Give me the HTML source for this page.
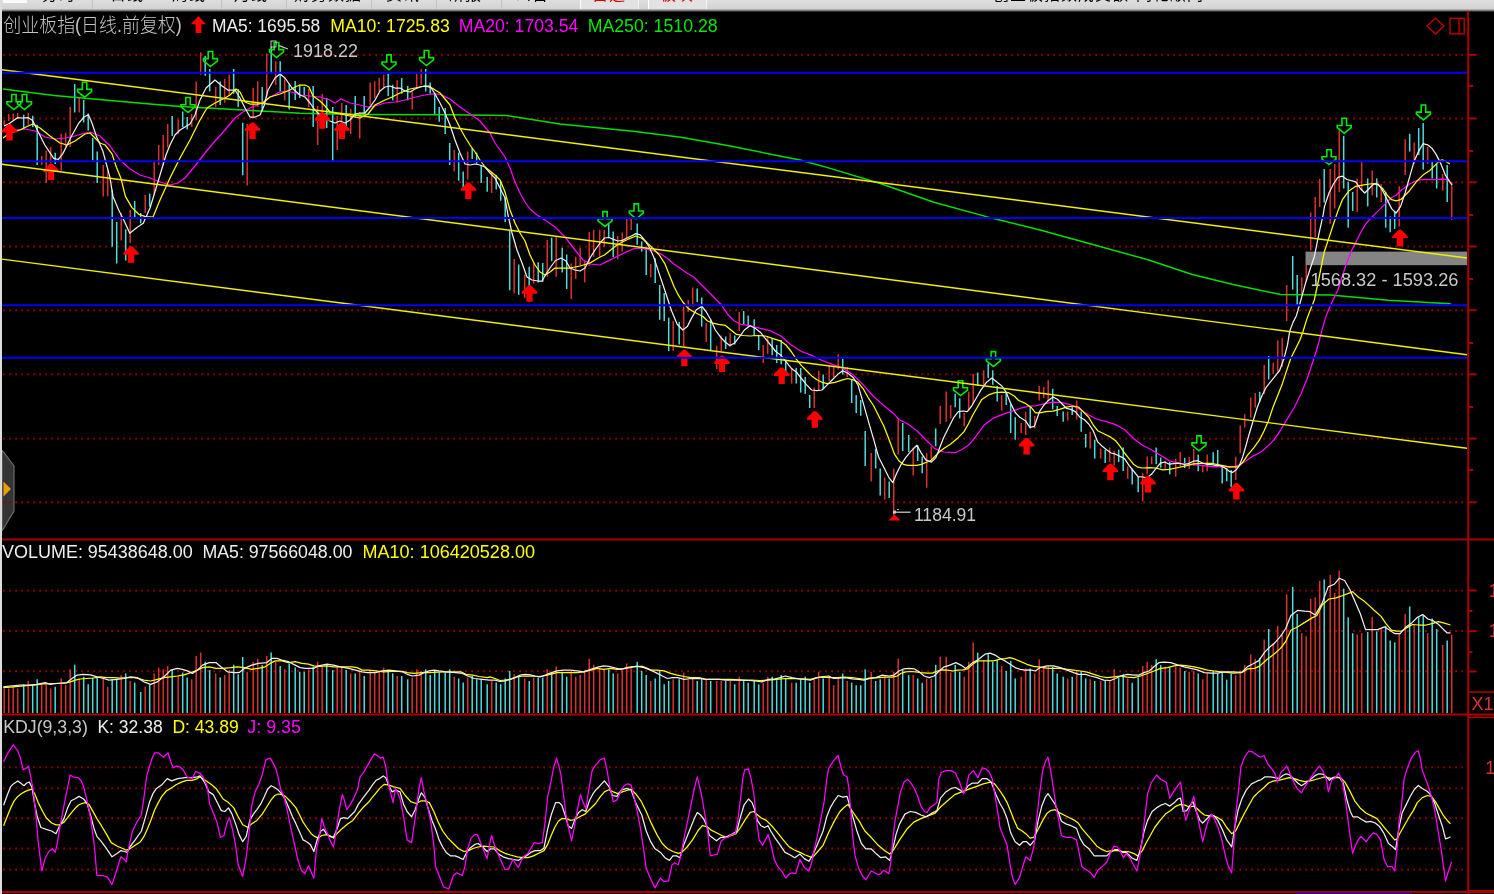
<!DOCTYPE html>
<html><head><meta charset="utf-8"><title>创业板指</title>
<style>
html,body{margin:0;padding:0;background:#000;width:1494px;height:894px;overflow:hidden;position:relative}
#top{position:absolute;left:0;top:0;width:1494px;height:12px;background:linear-gradient(#dedede 0,#d3d3d3 8.8px,#707070 10.7px,#000 12px);overflow:hidden}
#top span{position:absolute;top:-13px;font:16px/16px 'Liberation Sans','Noto Sans CJK SC',sans-serif;color:#000;white-space:nowrap;letter-spacing:1px}
#top .tab{position:absolute;top:0;height:8.5px;background:#e2e2e2;border-left:1px solid #fff;border-right:1px solid #f4f4f4}
#top .sep{position:absolute;top:0;height:9px;width:1px;background:#c4c4c4}
#lb{position:absolute;left:0;top:0;width:2px;height:894px;background:#dcdcdc}
#tab{position:absolute;left:2px;top:450px;width:13px;height:81px}
</style></head><body>
<div id="top">
<div class="tab" style="left:3px;width:24px;height:3px;background:#fafafa;border:0"></div>
<div class="sep" style="left:92px"></div><div class="sep" style="left:221px"></div><div class="sep" style="left:286px"></div>
<div class="sep" style="left:371px"></div><div class="sep" style="left:436px"></div><div class="sep" style="left:501px"></div>
<div class="tab" style="left:580px;width:57px"></div><div class="tab" style="left:648px;width:57px"></div>
<span style="left:42px">分时</span><span style="left:110px">日线</span><span style="left:172px">周线</span>
<span style="left:234px">月线</span><span style="left:294px">财务数据</span><span style="left:386px">资讯</span>
<span style="left:448px">研报</span><span style="left:515px">公告</span>
<span style="left:592px;color:#e00000">自选</span><span style="left:660px;color:#e00000">板块</span>
<span style="left:993px">创业板指数成交额</span><span style="left:1136px">同花顺网</span>
</div>
<div id="lb"></div>
<svg id="tab" width="13" height="81" viewBox="0 0 13 81" style="position:absolute;left:2px;top:450px">
<polygon points="0,0 12,16 12,61 0,81" fill="#343434" stroke="#6a6a6a" stroke-width="1.2"/>
<polygon points="1.5,31.5 9,39 1.5,46.5" fill="#e8a000"/>
</svg>
<svg width="1494" height="894" viewBox="0 0 1494 894" style="position:absolute;left:0;top:0">
<line x1="3.2" y1="54.9" x2="1465" y2="54.9" stroke="#920000" stroke-width="1.9" stroke-dasharray="1.9 4.1" />
<line x1="3.2" y1="118.5" x2="1465" y2="118.5" stroke="#920000" stroke-width="1.9" stroke-dasharray="1.9 4.1" />
<line x1="3.2" y1="182.3" x2="1465" y2="182.3" stroke="#920000" stroke-width="1.9" stroke-dasharray="1.9 4.1" />
<line x1="3.2" y1="246.5" x2="1465" y2="246.5" stroke="#920000" stroke-width="1.9" stroke-dasharray="1.9 4.1" />
<line x1="3.2" y1="310.2" x2="1465" y2="310.2" stroke="#920000" stroke-width="1.9" stroke-dasharray="1.9 4.1" />
<line x1="3.2" y1="374.4" x2="1465" y2="374.4" stroke="#920000" stroke-width="1.9" stroke-dasharray="1.9 4.1" />
<line x1="3.2" y1="438.6" x2="1465" y2="438.6" stroke="#920000" stroke-width="1.9" stroke-dasharray="1.9 4.1" />
<line x1="3.2" y1="502.3" x2="1465" y2="502.3" stroke="#920000" stroke-width="1.9" stroke-dasharray="1.9 4.1" />
<line x1="3.2" y1="590.6" x2="1465" y2="590.6" stroke="#920000" stroke-width="1.9" stroke-dasharray="1.9 4.1" />
<line x1="3.2" y1="631" x2="1465" y2="631" stroke="#920000" stroke-width="1.9" stroke-dasharray="1.9 4.1" />
<line x1="3.2" y1="671.3" x2="1465" y2="671.3" stroke="#920000" stroke-width="1.9" stroke-dasharray="1.9 4.1" />
<line x1="3.2" y1="767.4" x2="1464" y2="767.4" stroke="#920000" stroke-width="1.9" stroke-dasharray="1.9 4.1" />
<line x1="3.2" y1="788.4" x2="1464" y2="788.4" stroke="#920000" stroke-width="1.9" stroke-dasharray="1.9 4.1" />
<line x1="3.2" y1="818.3" x2="1464" y2="818.3" stroke="#920000" stroke-width="1.9" stroke-dasharray="1.9 4.1" />
<line x1="3.2" y1="848.5" x2="1464" y2="848.5" stroke="#920000" stroke-width="1.9" stroke-dasharray="1.9 4.1" />
<line x1="3.2" y1="869.5" x2="1464" y2="869.5" stroke="#920000" stroke-width="1.9" stroke-dasharray="1.9 4.1" />
<rect x="1305.5" y="251.6" width="161.5" height="13.6" fill="#848484"/>
<line x1="4.2" y1="120.3" x2="4.2" y2="124.8" stroke="#dc3030" stroke-width="1.5"/>
<line x1="8.7" y1="114" x2="8.7" y2="121" stroke="#dc3030" stroke-width="1.5"/>
<line x1="13.2" y1="113.6" x2="13.2" y2="120.3" stroke="#dc3030" stroke-width="1.5"/>
<line x1="17.7" y1="113" x2="17.7" y2="119" stroke="#dc3030" stroke-width="1.5"/>
<line x1="23.7" y1="114.7" x2="23.7" y2="129.2" stroke="#4adcdc" stroke-width="1.5"/>
<line x1="28.2" y1="113" x2="28.2" y2="124.8" stroke="#dc3030" stroke-width="1.5"/>
<line x1="32.7" y1="115.8" x2="32.7" y2="127" stroke="#4adcdc" stroke-width="1.5"/>
<line x1="37.2" y1="124.8" x2="37.2" y2="165" stroke="#4adcdc" stroke-width="1.5"/>
<line x1="41.7" y1="156" x2="41.7" y2="165" stroke="#dc3030" stroke-width="1.5"/>
<line x1="46.2" y1="150.5" x2="46.2" y2="183" stroke="#dc3030" stroke-width="1.5"/>
<line x1="50.7" y1="147" x2="50.7" y2="163" stroke="#dc3030" stroke-width="1.5"/>
<line x1="55.2" y1="152.8" x2="55.2" y2="164" stroke="#4adcdc" stroke-width="1.5"/>
<line x1="61.2" y1="133.7" x2="61.2" y2="170.7" stroke="#dc3030" stroke-width="1.5"/>
<line x1="65.7" y1="132.6" x2="65.7" y2="147" stroke="#dc3030" stroke-width="1.5"/>
<line x1="70.2" y1="107" x2="70.2" y2="147" stroke="#dc3030" stroke-width="1.5"/>
<line x1="74.7" y1="84" x2="74.7" y2="112.5" stroke="#4adcdc" stroke-width="1.5"/>
<line x1="79.2" y1="98" x2="79.2" y2="112.5" stroke="#dc3030" stroke-width="1.5"/>
<line x1="83.7" y1="100" x2="83.7" y2="122.5" stroke="#4adcdc" stroke-width="1.5"/>
<line x1="88.2" y1="113.6" x2="88.2" y2="130.4" stroke="#4adcdc" stroke-width="1.5"/>
<line x1="92.7" y1="138" x2="92.7" y2="160.6" stroke="#4adcdc" stroke-width="1.5"/>
<line x1="97.2" y1="151.6" x2="97.2" y2="183" stroke="#4adcdc" stroke-width="1.5"/>
<line x1="103.2" y1="165" x2="103.2" y2="196.4" stroke="#dc3030" stroke-width="1.5"/>
<line x1="107.7" y1="169.5" x2="107.7" y2="196.4" stroke="#dc3030" stroke-width="1.5"/>
<line x1="112.2" y1="189.7" x2="112.2" y2="246.8" stroke="#4adcdc" stroke-width="1.5"/>
<line x1="116.7" y1="222" x2="116.7" y2="263.6" stroke="#4adcdc" stroke-width="1.5"/>
<line x1="121.2" y1="213" x2="121.2" y2="240.4" stroke="#dc3030" stroke-width="1.5"/>
<line x1="125.7" y1="229.3" x2="125.7" y2="260.5" stroke="#4adcdc" stroke-width="1.5"/>
<line x1="130.2" y1="210" x2="130.2" y2="243" stroke="#dc3030" stroke-width="1.5"/>
<line x1="134.7" y1="201" x2="134.7" y2="217.7" stroke="#4adcdc" stroke-width="1.5"/>
<line x1="140.7" y1="213" x2="140.7" y2="223.3" stroke="#4adcdc" stroke-width="1.5"/>
<line x1="145.2" y1="195" x2="145.2" y2="213" stroke="#dc3030" stroke-width="1.5"/>
<line x1="149.7" y1="193.6" x2="149.7" y2="206.7" stroke="#4adcdc" stroke-width="1.5"/>
<line x1="154.2" y1="162" x2="154.2" y2="194.5" stroke="#dc3030" stroke-width="1.5"/>
<line x1="158.7" y1="145" x2="158.7" y2="165" stroke="#dc3030" stroke-width="1.5"/>
<line x1="163.2" y1="135" x2="163.2" y2="165" stroke="#dc3030" stroke-width="1.5"/>
<line x1="167.7" y1="124" x2="167.7" y2="147.5" stroke="#dc3030" stroke-width="1.5"/>
<line x1="172.2" y1="116" x2="172.2" y2="136" stroke="#4adcdc" stroke-width="1.5"/>
<line x1="178.2" y1="119.5" x2="178.2" y2="134" stroke="#dc3030" stroke-width="1.5"/>
<line x1="182.7" y1="111.6" x2="182.7" y2="127.3" stroke="#4adcdc" stroke-width="1.5"/>
<line x1="187.2" y1="117" x2="187.2" y2="129.5" stroke="#4adcdc" stroke-width="1.5"/>
<line x1="191.7" y1="114" x2="191.7" y2="127" stroke="#dc3030" stroke-width="1.5"/>
<line x1="196.2" y1="81.4" x2="196.2" y2="120.6" stroke="#dc3030" stroke-width="1.5"/>
<line x1="200.7" y1="52.3" x2="200.7" y2="74.7" stroke="#dc3030" stroke-width="1.5"/>
<line x1="205.2" y1="55.7" x2="205.2" y2="75.8" stroke="#4adcdc" stroke-width="1.5"/>
<line x1="209.7" y1="69" x2="209.7" y2="91.5" stroke="#4adcdc" stroke-width="1.5"/>
<line x1="215.7" y1="87" x2="215.7" y2="107" stroke="#dc3030" stroke-width="1.5"/>
<line x1="220.2" y1="81.4" x2="220.2" y2="105" stroke="#4adcdc" stroke-width="1.5"/>
<line x1="224.7" y1="79" x2="224.7" y2="102.7" stroke="#dc3030" stroke-width="1.5"/>
<line x1="229.2" y1="74.7" x2="229.2" y2="96" stroke="#dc3030" stroke-width="1.5"/>
<line x1="233.7" y1="69" x2="233.7" y2="93.7" stroke="#4adcdc" stroke-width="1.5"/>
<line x1="238.2" y1="89" x2="238.2" y2="107" stroke="#4adcdc" stroke-width="1.5"/>
<line x1="242.7" y1="122.8" x2="242.7" y2="175.4" stroke="#4adcdc" stroke-width="1.5"/>
<line x1="247.2" y1="124" x2="247.2" y2="185.5" stroke="#dc3030" stroke-width="1.5"/>
<line x1="253.2" y1="88" x2="253.2" y2="118.4" stroke="#dc3030" stroke-width="1.5"/>
<line x1="257.7" y1="81.4" x2="257.7" y2="107" stroke="#dc3030" stroke-width="1.5"/>
<line x1="262.2" y1="87" x2="262.2" y2="111.6" stroke="#4adcdc" stroke-width="1.5"/>
<line x1="266.7" y1="53.4" x2="266.7" y2="96" stroke="#dc3030" stroke-width="1.5"/>
<line x1="271.2" y1="46.7" x2="271.2" y2="73.6" stroke="#4adcdc" stroke-width="1.5"/>
<line x1="275.7" y1="61.3" x2="275.7" y2="84.8" stroke="#dc3030" stroke-width="1.5"/>
<line x1="280.2" y1="61.3" x2="280.2" y2="91.5" stroke="#4adcdc" stroke-width="1.5"/>
<line x1="284.7" y1="78" x2="284.7" y2="100.4" stroke="#dc3030" stroke-width="1.5"/>
<line x1="289.2" y1="83.7" x2="289.2" y2="109.4" stroke="#4adcdc" stroke-width="1.5"/>
<line x1="295.2" y1="81" x2="295.2" y2="100" stroke="#4adcdc" stroke-width="1.5"/>
<line x1="299.7" y1="84.5" x2="299.7" y2="98" stroke="#4adcdc" stroke-width="1.5"/>
<line x1="304.2" y1="87" x2="304.2" y2="96" stroke="#4adcdc" stroke-width="1.5"/>
<line x1="308.7" y1="89" x2="308.7" y2="107" stroke="#dc3030" stroke-width="1.5"/>
<line x1="313.2" y1="86" x2="313.2" y2="127" stroke="#4adcdc" stroke-width="1.5"/>
<line x1="317.7" y1="106" x2="317.7" y2="145" stroke="#dc3030" stroke-width="1.5"/>
<line x1="322.2" y1="94" x2="322.2" y2="114" stroke="#dc3030" stroke-width="1.5"/>
<line x1="326.7" y1="98" x2="326.7" y2="128" stroke="#4adcdc" stroke-width="1.5"/>
<line x1="332.7" y1="107" x2="332.7" y2="161" stroke="#4adcdc" stroke-width="1.5"/>
<line x1="337.2" y1="116" x2="337.2" y2="150" stroke="#dc3030" stroke-width="1.5"/>
<line x1="341.7" y1="103" x2="341.7" y2="129.5" stroke="#dc3030" stroke-width="1.5"/>
<line x1="346.2" y1="105" x2="346.2" y2="127" stroke="#4adcdc" stroke-width="1.5"/>
<line x1="350.7" y1="109" x2="350.7" y2="134" stroke="#dc3030" stroke-width="1.5"/>
<line x1="355.2" y1="96" x2="355.2" y2="118" stroke="#4adcdc" stroke-width="1.5"/>
<line x1="359.7" y1="112" x2="359.7" y2="138.5" stroke="#dc3030" stroke-width="1.5"/>
<line x1="364.2" y1="96" x2="364.2" y2="114" stroke="#4adcdc" stroke-width="1.5"/>
<line x1="370.2" y1="82.5" x2="370.2" y2="105" stroke="#dc3030" stroke-width="1.5"/>
<line x1="374.7" y1="81.4" x2="374.7" y2="98" stroke="#dc3030" stroke-width="1.5"/>
<line x1="379.2" y1="78" x2="379.2" y2="91.5" stroke="#dc3030" stroke-width="1.5"/>
<line x1="383.7" y1="74.7" x2="383.7" y2="88" stroke="#dc3030" stroke-width="1.5"/>
<line x1="388.2" y1="73.6" x2="388.2" y2="96" stroke="#4adcdc" stroke-width="1.5"/>
<line x1="392.7" y1="84.8" x2="392.7" y2="100.4" stroke="#4adcdc" stroke-width="1.5"/>
<line x1="397.2" y1="80.3" x2="397.2" y2="102.7" stroke="#dc3030" stroke-width="1.5"/>
<line x1="401.7" y1="78" x2="401.7" y2="93.7" stroke="#4adcdc" stroke-width="1.5"/>
<line x1="407.7" y1="86" x2="407.7" y2="100.4" stroke="#4adcdc" stroke-width="1.5"/>
<line x1="412.2" y1="91.5" x2="412.2" y2="109.4" stroke="#dc3030" stroke-width="1.5"/>
<line x1="416.7" y1="73.6" x2="416.7" y2="89" stroke="#dc3030" stroke-width="1.5"/>
<line x1="421.2" y1="69" x2="421.2" y2="84.8" stroke="#dc3030" stroke-width="1.5"/>
<line x1="425.7" y1="69" x2="425.7" y2="91.5" stroke="#4adcdc" stroke-width="1.5"/>
<line x1="430.2" y1="82.5" x2="430.2" y2="93.7" stroke="#4adcdc" stroke-width="1.5"/>
<line x1="434.7" y1="92.6" x2="434.7" y2="115" stroke="#4adcdc" stroke-width="1.5"/>
<line x1="439.2" y1="107" x2="439.2" y2="121.7" stroke="#4adcdc" stroke-width="1.5"/>
<line x1="445.2" y1="108" x2="445.2" y2="134" stroke="#4adcdc" stroke-width="1.5"/>
<line x1="449.7" y1="143" x2="449.7" y2="165" stroke="#4adcdc" stroke-width="1.5"/>
<line x1="454.2" y1="150" x2="454.2" y2="171.6" stroke="#dc3030" stroke-width="1.5"/>
<line x1="458.7" y1="152.6" x2="458.7" y2="180.6" stroke="#4adcdc" stroke-width="1.5"/>
<line x1="463.2" y1="171.6" x2="463.2" y2="187.3" stroke="#4adcdc" stroke-width="1.5"/>
<line x1="467.7" y1="151.5" x2="467.7" y2="179.5" stroke="#dc3030" stroke-width="1.5"/>
<line x1="472.2" y1="148" x2="472.2" y2="159" stroke="#4adcdc" stroke-width="1.5"/>
<line x1="476.7" y1="152.6" x2="476.7" y2="163.8" stroke="#4adcdc" stroke-width="1.5"/>
<line x1="481.2" y1="165" x2="481.2" y2="183" stroke="#4adcdc" stroke-width="1.5"/>
<line x1="487.2" y1="177" x2="487.2" y2="191.8" stroke="#4adcdc" stroke-width="1.5"/>
<line x1="491.7" y1="171.6" x2="491.7" y2="193" stroke="#dc3030" stroke-width="1.5"/>
<line x1="496.2" y1="175" x2="496.2" y2="189.5" stroke="#4adcdc" stroke-width="1.5"/>
<line x1="500.7" y1="180.6" x2="500.7" y2="200.7" stroke="#4adcdc" stroke-width="1.5"/>
<line x1="505.2" y1="197.4" x2="505.2" y2="222" stroke="#4adcdc" stroke-width="1.5"/>
<line x1="509.7" y1="229.8" x2="509.7" y2="290.3" stroke="#4adcdc" stroke-width="1.5"/>
<line x1="514.2" y1="259" x2="514.2" y2="293.6" stroke="#dc3030" stroke-width="1.5"/>
<line x1="518.7" y1="264.5" x2="518.7" y2="294.8" stroke="#4adcdc" stroke-width="1.5"/>
<line x1="524.7" y1="274.6" x2="524.7" y2="298" stroke="#dc3030" stroke-width="1.5"/>
<line x1="529.2" y1="266.8" x2="529.2" y2="285.8" stroke="#4adcdc" stroke-width="1.5"/>
<line x1="533.7" y1="263.4" x2="533.7" y2="283.6" stroke="#dc3030" stroke-width="1.5"/>
<line x1="538.2" y1="262.3" x2="538.2" y2="282.4" stroke="#4adcdc" stroke-width="1.5"/>
<line x1="542.7" y1="263" x2="542.7" y2="282" stroke="#4adcdc" stroke-width="1.5"/>
<line x1="547.2" y1="240" x2="547.2" y2="276.8" stroke="#dc3030" stroke-width="1.5"/>
<line x1="551.7" y1="237.7" x2="551.7" y2="261.2" stroke="#4adcdc" stroke-width="1.5"/>
<line x1="556.2" y1="236.6" x2="556.2" y2="276.8" stroke="#dc3030" stroke-width="1.5"/>
<line x1="562.2" y1="247.7" x2="562.2" y2="272.4" stroke="#4adcdc" stroke-width="1.5"/>
<line x1="566.7" y1="254.5" x2="566.7" y2="289" stroke="#4adcdc" stroke-width="1.5"/>
<line x1="571.2" y1="263.4" x2="571.2" y2="299" stroke="#dc3030" stroke-width="1.5"/>
<line x1="575.7" y1="256.7" x2="575.7" y2="279" stroke="#dc3030" stroke-width="1.5"/>
<line x1="580.2" y1="247.7" x2="580.2" y2="265.7" stroke="#dc3030" stroke-width="1.5"/>
<line x1="584.7" y1="261" x2="584.7" y2="282.4" stroke="#dc3030" stroke-width="1.5"/>
<line x1="589.2" y1="232" x2="589.2" y2="265.7" stroke="#dc3030" stroke-width="1.5"/>
<line x1="593.7" y1="229.8" x2="593.7" y2="256.7" stroke="#dc3030" stroke-width="1.5"/>
<line x1="599.7" y1="230" x2="599.7" y2="256" stroke="#dc3030" stroke-width="1.5"/>
<line x1="604.2" y1="230" x2="604.2" y2="247" stroke="#dc3030" stroke-width="1.5"/>
<line x1="608.7" y1="223.6" x2="608.7" y2="238" stroke="#4adcdc" stroke-width="1.5"/>
<line x1="613.2" y1="231.4" x2="613.2" y2="257" stroke="#4adcdc" stroke-width="1.5"/>
<line x1="617.7" y1="236" x2="617.7" y2="259.4" stroke="#dc3030" stroke-width="1.5"/>
<line x1="622.2" y1="232.5" x2="622.2" y2="251.6" stroke="#dc3030" stroke-width="1.5"/>
<line x1="626.7" y1="219" x2="626.7" y2="238" stroke="#dc3030" stroke-width="1.5"/>
<line x1="631.2" y1="219" x2="631.2" y2="230" stroke="#dc3030" stroke-width="1.5"/>
<line x1="637.2" y1="223.6" x2="637.2" y2="244.8" stroke="#4adcdc" stroke-width="1.5"/>
<line x1="641.7" y1="241.5" x2="641.7" y2="251.6" stroke="#4adcdc" stroke-width="1.5"/>
<line x1="646.2" y1="248" x2="646.2" y2="275" stroke="#4adcdc" stroke-width="1.5"/>
<line x1="650.7" y1="264" x2="650.7" y2="277.3" stroke="#dc3030" stroke-width="1.5"/>
<line x1="655.2" y1="258.3" x2="655.2" y2="283" stroke="#4adcdc" stroke-width="1.5"/>
<line x1="659.7" y1="285" x2="659.7" y2="319.8" stroke="#4adcdc" stroke-width="1.5"/>
<line x1="664.2" y1="293" x2="664.2" y2="321" stroke="#4adcdc" stroke-width="1.5"/>
<line x1="668.7" y1="317.6" x2="668.7" y2="351" stroke="#4adcdc" stroke-width="1.5"/>
<line x1="673.2" y1="321" x2="673.2" y2="351" stroke="#dc3030" stroke-width="1.5"/>
<line x1="679.2" y1="322" x2="679.2" y2="344.5" stroke="#4adcdc" stroke-width="1.5"/>
<line x1="683.7" y1="306.4" x2="683.7" y2="346.7" stroke="#dc3030" stroke-width="1.5"/>
<line x1="688.2" y1="299.7" x2="688.2" y2="312" stroke="#dc3030" stroke-width="1.5"/>
<line x1="692.7" y1="287.4" x2="692.7" y2="306.4" stroke="#dc3030" stroke-width="1.5"/>
<line x1="697.2" y1="288.5" x2="697.2" y2="302" stroke="#4adcdc" stroke-width="1.5"/>
<line x1="701.7" y1="297.5" x2="701.7" y2="326.6" stroke="#4adcdc" stroke-width="1.5"/>
<line x1="706.2" y1="323" x2="706.2" y2="342" stroke="#dc3030" stroke-width="1.5"/>
<line x1="710.7" y1="319.8" x2="710.7" y2="351" stroke="#4adcdc" stroke-width="1.5"/>
<line x1="716.7" y1="345.6" x2="716.7" y2="369" stroke="#dc3030" stroke-width="1.5"/>
<line x1="721.2" y1="335.5" x2="721.2" y2="351" stroke="#dc3030" stroke-width="1.5"/>
<line x1="725.7" y1="336.6" x2="725.7" y2="349" stroke="#4adcdc" stroke-width="1.5"/>
<line x1="730.2" y1="333.3" x2="730.2" y2="346.7" stroke="#dc3030" stroke-width="1.5"/>
<line x1="734.7" y1="335.5" x2="734.7" y2="344.5" stroke="#4adcdc" stroke-width="1.5"/>
<line x1="739.2" y1="312" x2="739.2" y2="331" stroke="#dc3030" stroke-width="1.5"/>
<line x1="743.7" y1="311" x2="743.7" y2="324.3" stroke="#4adcdc" stroke-width="1.5"/>
<line x1="748.2" y1="315.4" x2="748.2" y2="326.6" stroke="#4adcdc" stroke-width="1.5"/>
<line x1="754.2" y1="319.3" x2="754.2" y2="336" stroke="#4adcdc" stroke-width="1.5"/>
<line x1="758.7" y1="336" x2="758.7" y2="350" stroke="#4adcdc" stroke-width="1.5"/>
<line x1="763.2" y1="345" x2="763.2" y2="363" stroke="#dc3030" stroke-width="1.5"/>
<line x1="767.7" y1="336" x2="767.7" y2="354" stroke="#dc3030" stroke-width="1.5"/>
<line x1="772.2" y1="338.6" x2="772.2" y2="355.3" stroke="#4adcdc" stroke-width="1.5"/>
<line x1="776.7" y1="345" x2="776.7" y2="363" stroke="#4adcdc" stroke-width="1.5"/>
<line x1="781.2" y1="340" x2="781.2" y2="364.3" stroke="#4adcdc" stroke-width="1.5"/>
<line x1="785.7" y1="360.5" x2="785.7" y2="373.3" stroke="#4adcdc" stroke-width="1.5"/>
<line x1="791.7" y1="368" x2="791.7" y2="383.6" stroke="#dc3030" stroke-width="1.5"/>
<line x1="796.2" y1="368" x2="796.2" y2="383.6" stroke="#4adcdc" stroke-width="1.5"/>
<line x1="800.7" y1="368" x2="800.7" y2="392.6" stroke="#4adcdc" stroke-width="1.5"/>
<line x1="805.2" y1="377" x2="805.2" y2="394" stroke="#4adcdc" stroke-width="1.5"/>
<line x1="809.7" y1="395" x2="809.7" y2="408" stroke="#4adcdc" stroke-width="1.5"/>
<line x1="814.2" y1="387.5" x2="814.2" y2="408" stroke="#dc3030" stroke-width="1.5"/>
<line x1="818.7" y1="370.7" x2="818.7" y2="390" stroke="#dc3030" stroke-width="1.5"/>
<line x1="823.2" y1="374.6" x2="823.2" y2="388.8" stroke="#4adcdc" stroke-width="1.5"/>
<line x1="829.2" y1="365.6" x2="829.2" y2="381" stroke="#dc3030" stroke-width="1.5"/>
<line x1="833.7" y1="365.6" x2="833.7" y2="377" stroke="#dc3030" stroke-width="1.5"/>
<line x1="838.2" y1="354" x2="838.2" y2="369.5" stroke="#dc3030" stroke-width="1.5"/>
<line x1="842.7" y1="359" x2="842.7" y2="374.6" stroke="#4adcdc" stroke-width="1.5"/>
<line x1="847.2" y1="367" x2="847.2" y2="377" stroke="#dc3030" stroke-width="1.5"/>
<line x1="851.7" y1="379.8" x2="851.7" y2="403" stroke="#4adcdc" stroke-width="1.5"/>
<line x1="856.2" y1="395" x2="856.2" y2="413" stroke="#4adcdc" stroke-width="1.5"/>
<line x1="860.7" y1="400" x2="860.7" y2="415.8" stroke="#4adcdc" stroke-width="1.5"/>
<line x1="865.2" y1="431" x2="865.2" y2="466" stroke="#4adcdc" stroke-width="1.5"/>
<line x1="871.2" y1="453" x2="871.2" y2="481.4" stroke="#dc3030" stroke-width="1.5"/>
<line x1="875.7" y1="449" x2="875.7" y2="468.5" stroke="#4adcdc" stroke-width="1.5"/>
<line x1="880.2" y1="468.5" x2="880.2" y2="495.5" stroke="#4adcdc" stroke-width="1.5"/>
<line x1="884.7" y1="477.5" x2="884.7" y2="499.4" stroke="#dc3030" stroke-width="1.5"/>
<line x1="889.2" y1="481.4" x2="889.2" y2="498" stroke="#4adcdc" stroke-width="1.5"/>
<line x1="893.7" y1="468.5" x2="893.7" y2="515.5" stroke="#dc3030" stroke-width="1.5"/>
<line x1="898.2" y1="419.6" x2="898.2" y2="454.4" stroke="#dc3030" stroke-width="1.5"/>
<line x1="902.7" y1="423" x2="902.7" y2="451" stroke="#4adcdc" stroke-width="1.5"/>
<line x1="908.7" y1="435" x2="908.7" y2="452" stroke="#4adcdc" stroke-width="1.5"/>
<line x1="913.2" y1="447.5" x2="913.2" y2="475.5" stroke="#dc3030" stroke-width="1.5"/>
<line x1="917.7" y1="445.3" x2="917.7" y2="461" stroke="#4adcdc" stroke-width="1.5"/>
<line x1="922.2" y1="456.5" x2="922.2" y2="473.3" stroke="#4adcdc" stroke-width="1.5"/>
<line x1="926.7" y1="453" x2="926.7" y2="487.8" stroke="#dc3030" stroke-width="1.5"/>
<line x1="931.2" y1="446.4" x2="931.2" y2="458.7" stroke="#dc3030" stroke-width="1.5"/>
<line x1="935.7" y1="428.5" x2="935.7" y2="446.4" stroke="#4adcdc" stroke-width="1.5"/>
<line x1="940.2" y1="406" x2="940.2" y2="424" stroke="#dc3030" stroke-width="1.5"/>
<line x1="946.2" y1="391.6" x2="946.2" y2="421.8" stroke="#dc3030" stroke-width="1.5"/>
<line x1="950.7" y1="405" x2="950.7" y2="418.4" stroke="#dc3030" stroke-width="1.5"/>
<line x1="955.2" y1="393.8" x2="955.2" y2="407.2" stroke="#4adcdc" stroke-width="1.5"/>
<line x1="959.7" y1="398.3" x2="959.7" y2="418.4" stroke="#4adcdc" stroke-width="1.5"/>
<line x1="964.2" y1="412.8" x2="964.2" y2="426.3" stroke="#dc3030" stroke-width="1.5"/>
<line x1="968.7" y1="391.6" x2="968.7" y2="410.6" stroke="#dc3030" stroke-width="1.5"/>
<line x1="973.2" y1="373.7" x2="973.2" y2="403.9" stroke="#dc3030" stroke-width="1.5"/>
<line x1="977.7" y1="372.5" x2="977.7" y2="386" stroke="#4adcdc" stroke-width="1.5"/>
<line x1="983.7" y1="370.3" x2="983.7" y2="386" stroke="#dc3030" stroke-width="1.5"/>
<line x1="988.2" y1="363.6" x2="988.2" y2="378" stroke="#4adcdc" stroke-width="1.5"/>
<line x1="992.7" y1="370.3" x2="992.7" y2="384.8" stroke="#4adcdc" stroke-width="1.5"/>
<line x1="997.2" y1="386" x2="997.2" y2="401.6" stroke="#4adcdc" stroke-width="1.5"/>
<line x1="1001.7" y1="395" x2="1001.7" y2="410.6" stroke="#dc3030" stroke-width="1.5"/>
<line x1="1006.2" y1="392.7" x2="1006.2" y2="405" stroke="#4adcdc" stroke-width="1.5"/>
<line x1="1010.7" y1="403.9" x2="1010.7" y2="433" stroke="#4adcdc" stroke-width="1.5"/>
<line x1="1015.2" y1="417.3" x2="1015.2" y2="439.7" stroke="#4adcdc" stroke-width="1.5"/>
<line x1="1021.2" y1="423" x2="1021.2" y2="433" stroke="#dc3030" stroke-width="1.5"/>
<line x1="1025.7" y1="411.7" x2="1025.7" y2="435.2" stroke="#dc3030" stroke-width="1.5"/>
<line x1="1030.2" y1="406" x2="1030.2" y2="428.5" stroke="#4adcdc" stroke-width="1.5"/>
<line x1="1034.7" y1="416" x2="1034.7" y2="428.5" stroke="#dc3030" stroke-width="1.5"/>
<line x1="1039.2" y1="386" x2="1039.2" y2="400.4" stroke="#dc3030" stroke-width="1.5"/>
<line x1="1043.7" y1="387" x2="1043.7" y2="398" stroke="#dc3030" stroke-width="1.5"/>
<line x1="1048.2" y1="380.3" x2="1048.2" y2="401.6" stroke="#dc3030" stroke-width="1.5"/>
<line x1="1052.7" y1="388.8" x2="1052.7" y2="409.4" stroke="#4adcdc" stroke-width="1.5"/>
<line x1="1057.2" y1="406" x2="1057.2" y2="416" stroke="#4adcdc" stroke-width="1.5"/>
<line x1="1063.2" y1="411.6" x2="1063.2" y2="421.7" stroke="#4adcdc" stroke-width="1.5"/>
<line x1="1067.7" y1="411.6" x2="1067.7" y2="420.6" stroke="#dc3030" stroke-width="1.5"/>
<line x1="1072.2" y1="407" x2="1072.2" y2="415" stroke="#4adcdc" stroke-width="1.5"/>
<line x1="1076.7" y1="400.4" x2="1076.7" y2="419.5" stroke="#dc3030" stroke-width="1.5"/>
<line x1="1081.2" y1="411.6" x2="1081.2" y2="431.8" stroke="#4adcdc" stroke-width="1.5"/>
<line x1="1085.7" y1="434" x2="1085.7" y2="447.5" stroke="#4adcdc" stroke-width="1.5"/>
<line x1="1090.2" y1="431.8" x2="1090.2" y2="448.6" stroke="#dc3030" stroke-width="1.5"/>
<line x1="1094.7" y1="439.6" x2="1094.7" y2="458.6" stroke="#4adcdc" stroke-width="1.5"/>
<line x1="1100.7" y1="448.6" x2="1100.7" y2="458.6" stroke="#dc3030" stroke-width="1.5"/>
<line x1="1105.2" y1="449.7" x2="1105.2" y2="463" stroke="#4adcdc" stroke-width="1.5"/>
<line x1="1109.7" y1="447.5" x2="1109.7" y2="462" stroke="#dc3030" stroke-width="1.5"/>
<line x1="1114.2" y1="450.8" x2="1114.2" y2="465.4" stroke="#dc3030" stroke-width="1.5"/>
<line x1="1118.7" y1="449.7" x2="1118.7" y2="462" stroke="#4adcdc" stroke-width="1.5"/>
<line x1="1123.2" y1="447.5" x2="1123.2" y2="471" stroke="#4adcdc" stroke-width="1.5"/>
<line x1="1127.7" y1="466.5" x2="1127.7" y2="478.8" stroke="#dc3030" stroke-width="1.5"/>
<line x1="1132.2" y1="468.7" x2="1132.2" y2="484.4" stroke="#4adcdc" stroke-width="1.5"/>
<line x1="1138.2" y1="476.6" x2="1138.2" y2="492.2" stroke="#4adcdc" stroke-width="1.5"/>
<line x1="1142.7" y1="473.2" x2="1142.7" y2="501.2" stroke="#dc3030" stroke-width="1.5"/>
<line x1="1147.2" y1="456.4" x2="1147.2" y2="474.3" stroke="#dc3030" stroke-width="1.5"/>
<line x1="1151.7" y1="456.4" x2="1151.7" y2="464.2" stroke="#dc3030" stroke-width="1.5"/>
<line x1="1156.2" y1="447.5" x2="1156.2" y2="464.2" stroke="#4adcdc" stroke-width="1.5"/>
<line x1="1160.7" y1="457.5" x2="1160.7" y2="467.6" stroke="#4adcdc" stroke-width="1.5"/>
<line x1="1165.2" y1="461" x2="1165.2" y2="468.7" stroke="#dc3030" stroke-width="1.5"/>
<line x1="1169.7" y1="462" x2="1169.7" y2="474.3" stroke="#4adcdc" stroke-width="1.5"/>
<line x1="1175.7" y1="458.6" x2="1175.7" y2="476.6" stroke="#dc3030" stroke-width="1.5"/>
<line x1="1180.2" y1="452" x2="1180.2" y2="466.5" stroke="#dc3030" stroke-width="1.5"/>
<line x1="1184.7" y1="457.8" x2="1184.7" y2="468" stroke="#4adcdc" stroke-width="1.5"/>
<line x1="1189.2" y1="456.7" x2="1189.2" y2="469" stroke="#dc3030" stroke-width="1.5"/>
<line x1="1193.7" y1="448.9" x2="1193.7" y2="465.7" stroke="#dc3030" stroke-width="1.5"/>
<line x1="1198.2" y1="454.5" x2="1198.2" y2="471.3" stroke="#4adcdc" stroke-width="1.5"/>
<line x1="1202.7" y1="464.5" x2="1202.7" y2="472.4" stroke="#dc3030" stroke-width="1.5"/>
<line x1="1207.2" y1="454.5" x2="1207.2" y2="471.3" stroke="#dc3030" stroke-width="1.5"/>
<line x1="1213.2" y1="452.2" x2="1213.2" y2="464.5" stroke="#4adcdc" stroke-width="1.5"/>
<line x1="1217.7" y1="450" x2="1217.7" y2="465.7" stroke="#4adcdc" stroke-width="1.5"/>
<line x1="1222.2" y1="465.7" x2="1222.2" y2="483.6" stroke="#4adcdc" stroke-width="1.5"/>
<line x1="1226.7" y1="468" x2="1226.7" y2="481.3" stroke="#4adcdc" stroke-width="1.5"/>
<line x1="1231.2" y1="470" x2="1231.2" y2="487" stroke="#4adcdc" stroke-width="1.5"/>
<line x1="1235.7" y1="456.7" x2="1235.7" y2="480.2" stroke="#dc3030" stroke-width="1.5"/>
<line x1="1240.2" y1="425.4" x2="1240.2" y2="453.3" stroke="#dc3030" stroke-width="1.5"/>
<line x1="1244.7" y1="414.2" x2="1244.7" y2="427.6" stroke="#dc3030" stroke-width="1.5"/>
<line x1="1250.7" y1="397.4" x2="1250.7" y2="417.5" stroke="#dc3030" stroke-width="1.5"/>
<line x1="1255.2" y1="393" x2="1255.2" y2="407.5" stroke="#dc3030" stroke-width="1.5"/>
<line x1="1259.7" y1="391.8" x2="1259.7" y2="401.9" stroke="#4adcdc" stroke-width="1.5"/>
<line x1="1264.2" y1="365" x2="1264.2" y2="394" stroke="#dc3030" stroke-width="1.5"/>
<line x1="1268.7" y1="356" x2="1268.7" y2="379.5" stroke="#4adcdc" stroke-width="1.5"/>
<line x1="1273.2" y1="362.7" x2="1273.2" y2="373.9" stroke="#dc3030" stroke-width="1.5"/>
<line x1="1277.7" y1="340.3" x2="1277.7" y2="371.6" stroke="#dc3030" stroke-width="1.5"/>
<line x1="1282.2" y1="338" x2="1282.2" y2="367" stroke="#dc3030" stroke-width="1.5"/>
<line x1="1286.7" y1="285" x2="1286.7" y2="321" stroke="#dc3030" stroke-width="1.5"/>
<line x1="1292.7" y1="256" x2="1292.7" y2="289.6" stroke="#4adcdc" stroke-width="1.5"/>
<line x1="1297.2" y1="275" x2="1297.2" y2="305" stroke="#4adcdc" stroke-width="1.5"/>
<line x1="1301.7" y1="277.3" x2="1301.7" y2="294" stroke="#dc3030" stroke-width="1.5"/>
<line x1="1306.2" y1="265" x2="1306.2" y2="281.8" stroke="#dc3030" stroke-width="1.5"/>
<line x1="1310.7" y1="212.5" x2="1310.7" y2="250.5" stroke="#dc3030" stroke-width="1.5"/>
<line x1="1315.2" y1="196.9" x2="1315.2" y2="237" stroke="#dc3030" stroke-width="1.5"/>
<line x1="1319.7" y1="179" x2="1319.7" y2="207" stroke="#dc3030" stroke-width="1.5"/>
<line x1="1324.2" y1="169" x2="1324.2" y2="202.5" stroke="#4adcdc" stroke-width="1.5"/>
<line x1="1330.2" y1="169" x2="1330.2" y2="223.7" stroke="#dc3030" stroke-width="1.5"/>
<line x1="1334.7" y1="163.9" x2="1334.7" y2="208.6" stroke="#dc3030" stroke-width="1.5"/>
<line x1="1339.2" y1="129.2" x2="1339.2" y2="191.9" stroke="#dc3030" stroke-width="1.5"/>
<line x1="1343.7" y1="135.9" x2="1343.7" y2="188.5" stroke="#4adcdc" stroke-width="1.5"/>
<line x1="1348.2" y1="181.8" x2="1348.2" y2="227.7" stroke="#4adcdc" stroke-width="1.5"/>
<line x1="1352.7" y1="191.9" x2="1352.7" y2="210.9" stroke="#4adcdc" stroke-width="1.5"/>
<line x1="1357.2" y1="178.4" x2="1357.2" y2="212" stroke="#dc3030" stroke-width="1.5"/>
<line x1="1361.7" y1="161.6" x2="1361.7" y2="190.7" stroke="#dc3030" stroke-width="1.5"/>
<line x1="1367.7" y1="178.4" x2="1367.7" y2="206.4" stroke="#4adcdc" stroke-width="1.5"/>
<line x1="1372.2" y1="170.6" x2="1372.2" y2="195.2" stroke="#dc3030" stroke-width="1.5"/>
<line x1="1376.7" y1="178.4" x2="1376.7" y2="197.5" stroke="#4adcdc" stroke-width="1.5"/>
<line x1="1381.2" y1="184" x2="1381.2" y2="202" stroke="#dc3030" stroke-width="1.5"/>
<line x1="1385.7" y1="191.9" x2="1385.7" y2="227.7" stroke="#4adcdc" stroke-width="1.5"/>
<line x1="1390.2" y1="216.5" x2="1390.2" y2="232.2" stroke="#4adcdc" stroke-width="1.5"/>
<line x1="1394.7" y1="210.9" x2="1394.7" y2="228.8" stroke="#4adcdc" stroke-width="1.5"/>
<line x1="1399.2" y1="186.3" x2="1399.2" y2="226.6" stroke="#dc3030" stroke-width="1.5"/>
<line x1="1405.2" y1="139.2" x2="1405.2" y2="175.1" stroke="#dc3030" stroke-width="1.5"/>
<line x1="1409.7" y1="133.7" x2="1409.7" y2="151.6" stroke="#4adcdc" stroke-width="1.5"/>
<line x1="1414.2" y1="142.6" x2="1414.2" y2="163.9" stroke="#dc3030" stroke-width="1.5"/>
<line x1="1418.7" y1="128" x2="1418.7" y2="155" stroke="#4adcdc" stroke-width="1.5"/>
<line x1="1423.2" y1="123" x2="1423.2" y2="169.5" stroke="#4adcdc" stroke-width="1.5"/>
<line x1="1427.7" y1="147" x2="1427.7" y2="163.9" stroke="#dc3030" stroke-width="1.5"/>
<line x1="1432.2" y1="161.6" x2="1432.2" y2="178.4" stroke="#4adcdc" stroke-width="1.5"/>
<line x1="1436.7" y1="163.9" x2="1436.7" y2="188.5" stroke="#4adcdc" stroke-width="1.5"/>
<line x1="1442.7" y1="174" x2="1442.7" y2="190.7" stroke="#dc3030" stroke-width="1.5"/>
<line x1="1447.2" y1="165" x2="1447.2" y2="202" stroke="#4adcdc" stroke-width="1.5"/>
<line x1="1451.7" y1="181.8" x2="1451.7" y2="219.8" stroke="#dc3030" stroke-width="1.5"/>
<line x1="4.2" y1="688.5" x2="4.2" y2="713" stroke="#dc3030" stroke-width="1.5"/>
<line x1="8.7" y1="688.5" x2="8.7" y2="713" stroke="#dc3030" stroke-width="1.5"/>
<line x1="13.2" y1="686" x2="13.2" y2="713" stroke="#dc3030" stroke-width="1.5"/>
<line x1="17.7" y1="688.5" x2="17.7" y2="713" stroke="#dc3030" stroke-width="1.5"/>
<line x1="23.7" y1="684.3" x2="23.7" y2="713" stroke="#4adcdc" stroke-width="1.5"/>
<line x1="28.2" y1="681" x2="28.2" y2="713" stroke="#dc3030" stroke-width="1.5"/>
<line x1="32.7" y1="685" x2="32.7" y2="713" stroke="#4adcdc" stroke-width="1.5"/>
<line x1="37.2" y1="679.3" x2="37.2" y2="713" stroke="#4adcdc" stroke-width="1.5"/>
<line x1="41.7" y1="685" x2="41.7" y2="713" stroke="#dc3030" stroke-width="1.5"/>
<line x1="46.2" y1="684.3" x2="46.2" y2="713" stroke="#dc3030" stroke-width="1.5"/>
<line x1="50.7" y1="688.5" x2="50.7" y2="713" stroke="#dc3030" stroke-width="1.5"/>
<line x1="55.2" y1="686.8" x2="55.2" y2="713" stroke="#4adcdc" stroke-width="1.5"/>
<line x1="61.2" y1="678.5" x2="61.2" y2="713" stroke="#dc3030" stroke-width="1.5"/>
<line x1="65.7" y1="685" x2="65.7" y2="713" stroke="#dc3030" stroke-width="1.5"/>
<line x1="70.2" y1="669.3" x2="70.2" y2="713" stroke="#dc3030" stroke-width="1.5"/>
<line x1="74.7" y1="664.7" x2="74.7" y2="713" stroke="#4adcdc" stroke-width="1.5"/>
<line x1="79.2" y1="678.5" x2="79.2" y2="713" stroke="#dc3030" stroke-width="1.5"/>
<line x1="83.7" y1="676.8" x2="83.7" y2="713" stroke="#4adcdc" stroke-width="1.5"/>
<line x1="88.2" y1="684.3" x2="88.2" y2="713" stroke="#4adcdc" stroke-width="1.5"/>
<line x1="92.7" y1="677.6" x2="92.7" y2="713" stroke="#4adcdc" stroke-width="1.5"/>
<line x1="97.2" y1="677.6" x2="97.2" y2="713" stroke="#4adcdc" stroke-width="1.5"/>
<line x1="103.2" y1="678.5" x2="103.2" y2="713" stroke="#dc3030" stroke-width="1.5"/>
<line x1="107.7" y1="686.8" x2="107.7" y2="713" stroke="#dc3030" stroke-width="1.5"/>
<line x1="112.2" y1="679.3" x2="112.2" y2="713" stroke="#4adcdc" stroke-width="1.5"/>
<line x1="116.7" y1="678.5" x2="116.7" y2="713" stroke="#4adcdc" stroke-width="1.5"/>
<line x1="121.2" y1="675" x2="121.2" y2="713" stroke="#dc3030" stroke-width="1.5"/>
<line x1="125.7" y1="673.4" x2="125.7" y2="713" stroke="#4adcdc" stroke-width="1.5"/>
<line x1="130.2" y1="681" x2="130.2" y2="713" stroke="#dc3030" stroke-width="1.5"/>
<line x1="134.7" y1="682.6" x2="134.7" y2="713" stroke="#4adcdc" stroke-width="1.5"/>
<line x1="140.7" y1="691.9" x2="140.7" y2="713" stroke="#4adcdc" stroke-width="1.5"/>
<line x1="145.2" y1="686.8" x2="145.2" y2="713" stroke="#dc3030" stroke-width="1.5"/>
<line x1="149.7" y1="684.3" x2="149.7" y2="713" stroke="#4adcdc" stroke-width="1.5"/>
<line x1="154.2" y1="673.4" x2="154.2" y2="713" stroke="#dc3030" stroke-width="1.5"/>
<line x1="158.7" y1="667.6" x2="158.7" y2="713" stroke="#dc3030" stroke-width="1.5"/>
<line x1="163.2" y1="669.3" x2="163.2" y2="713" stroke="#dc3030" stroke-width="1.5"/>
<line x1="167.7" y1="666" x2="167.7" y2="713" stroke="#dc3030" stroke-width="1.5"/>
<line x1="172.2" y1="669.3" x2="172.2" y2="713" stroke="#4adcdc" stroke-width="1.5"/>
<line x1="178.2" y1="676" x2="178.2" y2="713" stroke="#dc3030" stroke-width="1.5"/>
<line x1="182.7" y1="672.6" x2="182.7" y2="713" stroke="#4adcdc" stroke-width="1.5"/>
<line x1="187.2" y1="677.6" x2="187.2" y2="713" stroke="#4adcdc" stroke-width="1.5"/>
<line x1="191.7" y1="679.3" x2="191.7" y2="713" stroke="#dc3030" stroke-width="1.5"/>
<line x1="196.2" y1="655.9" x2="196.2" y2="713" stroke="#dc3030" stroke-width="1.5"/>
<line x1="200.7" y1="652.5" x2="200.7" y2="713" stroke="#dc3030" stroke-width="1.5"/>
<line x1="205.2" y1="661.7" x2="205.2" y2="713" stroke="#4adcdc" stroke-width="1.5"/>
<line x1="209.7" y1="670.1" x2="209.7" y2="713" stroke="#4adcdc" stroke-width="1.5"/>
<line x1="215.7" y1="673.4" x2="215.7" y2="713" stroke="#dc3030" stroke-width="1.5"/>
<line x1="220.2" y1="677.6" x2="220.2" y2="713" stroke="#4adcdc" stroke-width="1.5"/>
<line x1="224.7" y1="675" x2="224.7" y2="713" stroke="#dc3030" stroke-width="1.5"/>
<line x1="229.2" y1="670.1" x2="229.2" y2="713" stroke="#dc3030" stroke-width="1.5"/>
<line x1="233.7" y1="664.7" x2="233.7" y2="713" stroke="#4adcdc" stroke-width="1.5"/>
<line x1="238.2" y1="674.3" x2="238.2" y2="713" stroke="#4adcdc" stroke-width="1.5"/>
<line x1="242.7" y1="657" x2="242.7" y2="713" stroke="#4adcdc" stroke-width="1.5"/>
<line x1="247.2" y1="671.8" x2="247.2" y2="713" stroke="#dc3030" stroke-width="1.5"/>
<line x1="253.2" y1="661.7" x2="253.2" y2="713" stroke="#dc3030" stroke-width="1.5"/>
<line x1="257.7" y1="658.7" x2="257.7" y2="713" stroke="#dc3030" stroke-width="1.5"/>
<line x1="262.2" y1="665" x2="262.2" y2="713" stroke="#4adcdc" stroke-width="1.5"/>
<line x1="266.7" y1="655.9" x2="266.7" y2="713" stroke="#dc3030" stroke-width="1.5"/>
<line x1="271.2" y1="652.5" x2="271.2" y2="713" stroke="#4adcdc" stroke-width="1.5"/>
<line x1="275.7" y1="661.7" x2="275.7" y2="713" stroke="#dc3030" stroke-width="1.5"/>
<line x1="280.2" y1="665.9" x2="280.2" y2="713" stroke="#4adcdc" stroke-width="1.5"/>
<line x1="284.7" y1="669.3" x2="284.7" y2="713" stroke="#dc3030" stroke-width="1.5"/>
<line x1="289.2" y1="663.4" x2="289.2" y2="713" stroke="#4adcdc" stroke-width="1.5"/>
<line x1="295.2" y1="667.6" x2="295.2" y2="713" stroke="#4adcdc" stroke-width="1.5"/>
<line x1="299.7" y1="671.8" x2="299.7" y2="713" stroke="#4adcdc" stroke-width="1.5"/>
<line x1="304.2" y1="671.8" x2="304.2" y2="713" stroke="#4adcdc" stroke-width="1.5"/>
<line x1="308.7" y1="669.3" x2="308.7" y2="713" stroke="#dc3030" stroke-width="1.5"/>
<line x1="313.2" y1="666.8" x2="313.2" y2="713" stroke="#4adcdc" stroke-width="1.5"/>
<line x1="317.7" y1="661.7" x2="317.7" y2="713" stroke="#dc3030" stroke-width="1.5"/>
<line x1="322.2" y1="666.8" x2="322.2" y2="713" stroke="#dc3030" stroke-width="1.5"/>
<line x1="326.7" y1="665" x2="326.7" y2="713" stroke="#4adcdc" stroke-width="1.5"/>
<line x1="332.7" y1="670.1" x2="332.7" y2="713" stroke="#4adcdc" stroke-width="1.5"/>
<line x1="337.2" y1="666.8" x2="337.2" y2="713" stroke="#dc3030" stroke-width="1.5"/>
<line x1="341.7" y1="666.8" x2="341.7" y2="713" stroke="#dc3030" stroke-width="1.5"/>
<line x1="346.2" y1="670.1" x2="346.2" y2="713" stroke="#4adcdc" stroke-width="1.5"/>
<line x1="350.7" y1="673.4" x2="350.7" y2="713" stroke="#dc3030" stroke-width="1.5"/>
<line x1="355.2" y1="673.4" x2="355.2" y2="713" stroke="#4adcdc" stroke-width="1.5"/>
<line x1="359.7" y1="671" x2="359.7" y2="713" stroke="#dc3030" stroke-width="1.5"/>
<line x1="364.2" y1="676" x2="364.2" y2="713" stroke="#4adcdc" stroke-width="1.5"/>
<line x1="370.2" y1="671" x2="370.2" y2="713" stroke="#dc3030" stroke-width="1.5"/>
<line x1="374.7" y1="672.6" x2="374.7" y2="713" stroke="#dc3030" stroke-width="1.5"/>
<line x1="379.2" y1="671.8" x2="379.2" y2="713" stroke="#dc3030" stroke-width="1.5"/>
<line x1="383.7" y1="667.6" x2="383.7" y2="713" stroke="#dc3030" stroke-width="1.5"/>
<line x1="388.2" y1="671" x2="388.2" y2="713" stroke="#4adcdc" stroke-width="1.5"/>
<line x1="392.7" y1="673.4" x2="392.7" y2="713" stroke="#4adcdc" stroke-width="1.5"/>
<line x1="397.2" y1="676" x2="397.2" y2="713" stroke="#dc3030" stroke-width="1.5"/>
<line x1="401.7" y1="676" x2="401.7" y2="713" stroke="#4adcdc" stroke-width="1.5"/>
<line x1="407.7" y1="679.3" x2="407.7" y2="713" stroke="#4adcdc" stroke-width="1.5"/>
<line x1="412.2" y1="677.6" x2="412.2" y2="713" stroke="#dc3030" stroke-width="1.5"/>
<line x1="416.7" y1="669.3" x2="416.7" y2="713" stroke="#dc3030" stroke-width="1.5"/>
<line x1="421.2" y1="671" x2="421.2" y2="713" stroke="#dc3030" stroke-width="1.5"/>
<line x1="425.7" y1="669.3" x2="425.7" y2="713" stroke="#4adcdc" stroke-width="1.5"/>
<line x1="430.2" y1="675.1" x2="430.2" y2="713" stroke="#4adcdc" stroke-width="1.5"/>
<line x1="434.7" y1="671" x2="434.7" y2="713" stroke="#4adcdc" stroke-width="1.5"/>
<line x1="439.2" y1="672.6" x2="439.2" y2="713" stroke="#4adcdc" stroke-width="1.5"/>
<line x1="445.2" y1="672.6" x2="445.2" y2="713" stroke="#4adcdc" stroke-width="1.5"/>
<line x1="449.7" y1="669.3" x2="449.7" y2="713" stroke="#4adcdc" stroke-width="1.5"/>
<line x1="454.2" y1="676.8" x2="454.2" y2="713" stroke="#dc3030" stroke-width="1.5"/>
<line x1="458.7" y1="678.5" x2="458.7" y2="713" stroke="#4adcdc" stroke-width="1.5"/>
<line x1="463.2" y1="682.6" x2="463.2" y2="713" stroke="#4adcdc" stroke-width="1.5"/>
<line x1="467.7" y1="677.6" x2="467.7" y2="713" stroke="#dc3030" stroke-width="1.5"/>
<line x1="472.2" y1="676" x2="472.2" y2="713" stroke="#4adcdc" stroke-width="1.5"/>
<line x1="476.7" y1="679.3" x2="476.7" y2="713" stroke="#4adcdc" stroke-width="1.5"/>
<line x1="481.2" y1="679.3" x2="481.2" y2="713" stroke="#4adcdc" stroke-width="1.5"/>
<line x1="487.2" y1="684.3" x2="487.2" y2="713" stroke="#4adcdc" stroke-width="1.5"/>
<line x1="491.7" y1="681" x2="491.7" y2="713" stroke="#dc3030" stroke-width="1.5"/>
<line x1="496.2" y1="682.6" x2="496.2" y2="713" stroke="#4adcdc" stroke-width="1.5"/>
<line x1="500.7" y1="684.3" x2="500.7" y2="713" stroke="#4adcdc" stroke-width="1.5"/>
<line x1="505.2" y1="678.5" x2="505.2" y2="713" stroke="#4adcdc" stroke-width="1.5"/>
<line x1="509.7" y1="670.9" x2="509.7" y2="713" stroke="#4adcdc" stroke-width="1.5"/>
<line x1="514.2" y1="674.3" x2="514.2" y2="713" stroke="#dc3030" stroke-width="1.5"/>
<line x1="518.7" y1="676.8" x2="518.7" y2="713" stroke="#4adcdc" stroke-width="1.5"/>
<line x1="524.7" y1="678.5" x2="524.7" y2="713" stroke="#dc3030" stroke-width="1.5"/>
<line x1="529.2" y1="681" x2="529.2" y2="713" stroke="#4adcdc" stroke-width="1.5"/>
<line x1="533.7" y1="677.6" x2="533.7" y2="713" stroke="#dc3030" stroke-width="1.5"/>
<line x1="538.2" y1="677.6" x2="538.2" y2="713" stroke="#4adcdc" stroke-width="1.5"/>
<line x1="542.7" y1="677.6" x2="542.7" y2="713" stroke="#4adcdc" stroke-width="1.5"/>
<line x1="547.2" y1="669.3" x2="547.2" y2="713" stroke="#dc3030" stroke-width="1.5"/>
<line x1="551.7" y1="671.8" x2="551.7" y2="713" stroke="#4adcdc" stroke-width="1.5"/>
<line x1="556.2" y1="666.4" x2="556.2" y2="713" stroke="#dc3030" stroke-width="1.5"/>
<line x1="562.2" y1="672.6" x2="562.2" y2="713" stroke="#4adcdc" stroke-width="1.5"/>
<line x1="566.7" y1="676.8" x2="566.7" y2="713" stroke="#4adcdc" stroke-width="1.5"/>
<line x1="571.2" y1="670.9" x2="571.2" y2="713" stroke="#dc3030" stroke-width="1.5"/>
<line x1="575.7" y1="676.8" x2="575.7" y2="713" stroke="#dc3030" stroke-width="1.5"/>
<line x1="580.2" y1="675.1" x2="580.2" y2="713" stroke="#dc3030" stroke-width="1.5"/>
<line x1="584.7" y1="670.1" x2="584.7" y2="713" stroke="#dc3030" stroke-width="1.5"/>
<line x1="589.2" y1="658.7" x2="589.2" y2="713" stroke="#dc3030" stroke-width="1.5"/>
<line x1="593.7" y1="664.7" x2="593.7" y2="713" stroke="#dc3030" stroke-width="1.5"/>
<line x1="599.7" y1="668.4" x2="599.7" y2="713" stroke="#dc3030" stroke-width="1.5"/>
<line x1="604.2" y1="670.1" x2="604.2" y2="713" stroke="#dc3030" stroke-width="1.5"/>
<line x1="608.7" y1="669.3" x2="608.7" y2="713" stroke="#4adcdc" stroke-width="1.5"/>
<line x1="613.2" y1="673.4" x2="613.2" y2="713" stroke="#4adcdc" stroke-width="1.5"/>
<line x1="617.7" y1="673.4" x2="617.7" y2="713" stroke="#dc3030" stroke-width="1.5"/>
<line x1="622.2" y1="670.1" x2="622.2" y2="713" stroke="#dc3030" stroke-width="1.5"/>
<line x1="626.7" y1="663.4" x2="626.7" y2="713" stroke="#dc3030" stroke-width="1.5"/>
<line x1="631.2" y1="668.4" x2="631.2" y2="713" stroke="#dc3030" stroke-width="1.5"/>
<line x1="637.2" y1="661.7" x2="637.2" y2="713" stroke="#4adcdc" stroke-width="1.5"/>
<line x1="641.7" y1="670.9" x2="641.7" y2="713" stroke="#4adcdc" stroke-width="1.5"/>
<line x1="646.2" y1="675.1" x2="646.2" y2="713" stroke="#4adcdc" stroke-width="1.5"/>
<line x1="650.7" y1="681" x2="650.7" y2="713" stroke="#dc3030" stroke-width="1.5"/>
<line x1="655.2" y1="678.5" x2="655.2" y2="713" stroke="#4adcdc" stroke-width="1.5"/>
<line x1="659.7" y1="670.9" x2="659.7" y2="713" stroke="#4adcdc" stroke-width="1.5"/>
<line x1="664.2" y1="684.3" x2="664.2" y2="713" stroke="#4adcdc" stroke-width="1.5"/>
<line x1="668.7" y1="681" x2="668.7" y2="713" stroke="#4adcdc" stroke-width="1.5"/>
<line x1="673.2" y1="679.3" x2="673.2" y2="713" stroke="#dc3030" stroke-width="1.5"/>
<line x1="679.2" y1="679.3" x2="679.2" y2="713" stroke="#4adcdc" stroke-width="1.5"/>
<line x1="683.7" y1="672.6" x2="683.7" y2="713" stroke="#dc3030" stroke-width="1.5"/>
<line x1="688.2" y1="679.3" x2="688.2" y2="713" stroke="#dc3030" stroke-width="1.5"/>
<line x1="692.7" y1="678.5" x2="692.7" y2="713" stroke="#dc3030" stroke-width="1.5"/>
<line x1="697.2" y1="681" x2="697.2" y2="713" stroke="#4adcdc" stroke-width="1.5"/>
<line x1="701.7" y1="678.5" x2="701.7" y2="713" stroke="#4adcdc" stroke-width="1.5"/>
<line x1="706.2" y1="679.3" x2="706.2" y2="713" stroke="#dc3030" stroke-width="1.5"/>
<line x1="710.7" y1="681" x2="710.7" y2="713" stroke="#4adcdc" stroke-width="1.5"/>
<line x1="716.7" y1="681" x2="716.7" y2="713" stroke="#dc3030" stroke-width="1.5"/>
<line x1="721.2" y1="681" x2="721.2" y2="713" stroke="#dc3030" stroke-width="1.5"/>
<line x1="725.7" y1="681" x2="725.7" y2="713" stroke="#4adcdc" stroke-width="1.5"/>
<line x1="730.2" y1="681" x2="730.2" y2="713" stroke="#dc3030" stroke-width="1.5"/>
<line x1="734.7" y1="684.3" x2="734.7" y2="713" stroke="#4adcdc" stroke-width="1.5"/>
<line x1="739.2" y1="676.8" x2="739.2" y2="713" stroke="#dc3030" stroke-width="1.5"/>
<line x1="743.7" y1="681" x2="743.7" y2="713" stroke="#4adcdc" stroke-width="1.5"/>
<line x1="748.2" y1="682.7" x2="748.2" y2="713" stroke="#4adcdc" stroke-width="1.5"/>
<line x1="754.2" y1="681" x2="754.2" y2="713" stroke="#4adcdc" stroke-width="1.5"/>
<line x1="758.7" y1="684.3" x2="758.7" y2="713" stroke="#4adcdc" stroke-width="1.5"/>
<line x1="763.2" y1="682.7" x2="763.2" y2="713" stroke="#dc3030" stroke-width="1.5"/>
<line x1="767.7" y1="676.8" x2="767.7" y2="713" stroke="#dc3030" stroke-width="1.5"/>
<line x1="772.2" y1="676.8" x2="772.2" y2="713" stroke="#4adcdc" stroke-width="1.5"/>
<line x1="776.7" y1="680.2" x2="776.7" y2="713" stroke="#4adcdc" stroke-width="1.5"/>
<line x1="781.2" y1="675.1" x2="781.2" y2="713" stroke="#4adcdc" stroke-width="1.5"/>
<line x1="785.7" y1="678.5" x2="785.7" y2="713" stroke="#4adcdc" stroke-width="1.5"/>
<line x1="791.7" y1="682.7" x2="791.7" y2="713" stroke="#dc3030" stroke-width="1.5"/>
<line x1="796.2" y1="682.7" x2="796.2" y2="713" stroke="#4adcdc" stroke-width="1.5"/>
<line x1="800.7" y1="679.3" x2="800.7" y2="713" stroke="#4adcdc" stroke-width="1.5"/>
<line x1="805.2" y1="676.8" x2="805.2" y2="713" stroke="#4adcdc" stroke-width="1.5"/>
<line x1="809.7" y1="682.7" x2="809.7" y2="713" stroke="#4adcdc" stroke-width="1.5"/>
<line x1="814.2" y1="679.3" x2="814.2" y2="713" stroke="#dc3030" stroke-width="1.5"/>
<line x1="818.7" y1="671.8" x2="818.7" y2="713" stroke="#dc3030" stroke-width="1.5"/>
<line x1="823.2" y1="678.5" x2="823.2" y2="713" stroke="#4adcdc" stroke-width="1.5"/>
<line x1="829.2" y1="677.6" x2="829.2" y2="713" stroke="#dc3030" stroke-width="1.5"/>
<line x1="833.7" y1="685.2" x2="833.7" y2="713" stroke="#dc3030" stroke-width="1.5"/>
<line x1="838.2" y1="678.5" x2="838.2" y2="713" stroke="#dc3030" stroke-width="1.5"/>
<line x1="842.7" y1="673.5" x2="842.7" y2="713" stroke="#4adcdc" stroke-width="1.5"/>
<line x1="847.2" y1="681" x2="847.2" y2="713" stroke="#dc3030" stroke-width="1.5"/>
<line x1="851.7" y1="682.7" x2="851.7" y2="713" stroke="#4adcdc" stroke-width="1.5"/>
<line x1="856.2" y1="685.2" x2="856.2" y2="713" stroke="#4adcdc" stroke-width="1.5"/>
<line x1="860.7" y1="685.2" x2="860.7" y2="713" stroke="#4adcdc" stroke-width="1.5"/>
<line x1="865.2" y1="669.3" x2="865.2" y2="713" stroke="#4adcdc" stroke-width="1.5"/>
<line x1="871.2" y1="671.8" x2="871.2" y2="713" stroke="#dc3030" stroke-width="1.5"/>
<line x1="875.7" y1="681" x2="875.7" y2="713" stroke="#4adcdc" stroke-width="1.5"/>
<line x1="880.2" y1="679.3" x2="880.2" y2="713" stroke="#4adcdc" stroke-width="1.5"/>
<line x1="884.7" y1="676" x2="884.7" y2="713" stroke="#dc3030" stroke-width="1.5"/>
<line x1="889.2" y1="678.5" x2="889.2" y2="713" stroke="#4adcdc" stroke-width="1.5"/>
<line x1="893.7" y1="671.8" x2="893.7" y2="713" stroke="#dc3030" stroke-width="1.5"/>
<line x1="898.2" y1="658.4" x2="898.2" y2="713" stroke="#dc3030" stroke-width="1.5"/>
<line x1="902.7" y1="669.3" x2="902.7" y2="713" stroke="#4adcdc" stroke-width="1.5"/>
<line x1="908.7" y1="675.1" x2="908.7" y2="713" stroke="#4adcdc" stroke-width="1.5"/>
<line x1="913.2" y1="675.1" x2="913.2" y2="713" stroke="#dc3030" stroke-width="1.5"/>
<line x1="917.7" y1="678.5" x2="917.7" y2="713" stroke="#4adcdc" stroke-width="1.5"/>
<line x1="922.2" y1="682.7" x2="922.2" y2="713" stroke="#4adcdc" stroke-width="1.5"/>
<line x1="926.7" y1="678.5" x2="926.7" y2="713" stroke="#dc3030" stroke-width="1.5"/>
<line x1="931.2" y1="678.5" x2="931.2" y2="713" stroke="#dc3030" stroke-width="1.5"/>
<line x1="935.7" y1="664.8" x2="935.7" y2="713" stroke="#4adcdc" stroke-width="1.5"/>
<line x1="940.2" y1="656.7" x2="940.2" y2="713" stroke="#dc3030" stroke-width="1.5"/>
<line x1="946.2" y1="656.7" x2="946.2" y2="713" stroke="#dc3030" stroke-width="1.5"/>
<line x1="950.7" y1="672.6" x2="950.7" y2="713" stroke="#dc3030" stroke-width="1.5"/>
<line x1="955.2" y1="665.1" x2="955.2" y2="713" stroke="#4adcdc" stroke-width="1.5"/>
<line x1="959.7" y1="671.8" x2="959.7" y2="713" stroke="#4adcdc" stroke-width="1.5"/>
<line x1="964.2" y1="676.8" x2="964.2" y2="713" stroke="#dc3030" stroke-width="1.5"/>
<line x1="968.7" y1="661.8" x2="968.7" y2="713" stroke="#dc3030" stroke-width="1.5"/>
<line x1="973.2" y1="642.5" x2="973.2" y2="713" stroke="#dc3030" stroke-width="1.5"/>
<line x1="977.7" y1="652.6" x2="977.7" y2="713" stroke="#4adcdc" stroke-width="1.5"/>
<line x1="983.7" y1="660.9" x2="983.7" y2="713" stroke="#dc3030" stroke-width="1.5"/>
<line x1="988.2" y1="654.2" x2="988.2" y2="713" stroke="#4adcdc" stroke-width="1.5"/>
<line x1="992.7" y1="661.8" x2="992.7" y2="713" stroke="#4adcdc" stroke-width="1.5"/>
<line x1="997.2" y1="660.1" x2="997.2" y2="713" stroke="#4adcdc" stroke-width="1.5"/>
<line x1="1001.7" y1="666" x2="1001.7" y2="713" stroke="#dc3030" stroke-width="1.5"/>
<line x1="1006.2" y1="671" x2="1006.2" y2="713" stroke="#4adcdc" stroke-width="1.5"/>
<line x1="1010.7" y1="660.9" x2="1010.7" y2="713" stroke="#4adcdc" stroke-width="1.5"/>
<line x1="1015.2" y1="678.5" x2="1015.2" y2="713" stroke="#4adcdc" stroke-width="1.5"/>
<line x1="1021.2" y1="676.8" x2="1021.2" y2="713" stroke="#dc3030" stroke-width="1.5"/>
<line x1="1025.7" y1="668.4" x2="1025.7" y2="713" stroke="#dc3030" stroke-width="1.5"/>
<line x1="1030.2" y1="668.4" x2="1030.2" y2="713" stroke="#4adcdc" stroke-width="1.5"/>
<line x1="1034.7" y1="673.5" x2="1034.7" y2="713" stroke="#dc3030" stroke-width="1.5"/>
<line x1="1039.2" y1="659.2" x2="1039.2" y2="713" stroke="#dc3030" stroke-width="1.5"/>
<line x1="1043.7" y1="667.6" x2="1043.7" y2="713" stroke="#dc3030" stroke-width="1.5"/>
<line x1="1048.2" y1="666" x2="1048.2" y2="713" stroke="#dc3030" stroke-width="1.5"/>
<line x1="1052.7" y1="666.8" x2="1052.7" y2="713" stroke="#4adcdc" stroke-width="1.5"/>
<line x1="1057.2" y1="673.5" x2="1057.2" y2="713" stroke="#4adcdc" stroke-width="1.5"/>
<line x1="1063.2" y1="676.8" x2="1063.2" y2="713" stroke="#4adcdc" stroke-width="1.5"/>
<line x1="1067.7" y1="678.5" x2="1067.7" y2="713" stroke="#dc3030" stroke-width="1.5"/>
<line x1="1072.2" y1="676.8" x2="1072.2" y2="713" stroke="#4adcdc" stroke-width="1.5"/>
<line x1="1076.7" y1="671" x2="1076.7" y2="713" stroke="#dc3030" stroke-width="1.5"/>
<line x1="1081.2" y1="671" x2="1081.2" y2="713" stroke="#4adcdc" stroke-width="1.5"/>
<line x1="1085.7" y1="678.5" x2="1085.7" y2="713" stroke="#4adcdc" stroke-width="1.5"/>
<line x1="1090.2" y1="679.3" x2="1090.2" y2="713" stroke="#dc3030" stroke-width="1.5"/>
<line x1="1094.7" y1="681" x2="1094.7" y2="713" stroke="#4adcdc" stroke-width="1.5"/>
<line x1="1100.7" y1="681" x2="1100.7" y2="713" stroke="#dc3030" stroke-width="1.5"/>
<line x1="1105.2" y1="680.2" x2="1105.2" y2="713" stroke="#4adcdc" stroke-width="1.5"/>
<line x1="1109.7" y1="681" x2="1109.7" y2="713" stroke="#dc3030" stroke-width="1.5"/>
<line x1="1114.2" y1="669.3" x2="1114.2" y2="713" stroke="#dc3030" stroke-width="1.5"/>
<line x1="1118.7" y1="677.6" x2="1118.7" y2="713" stroke="#4adcdc" stroke-width="1.5"/>
<line x1="1123.2" y1="674.3" x2="1123.2" y2="713" stroke="#4adcdc" stroke-width="1.5"/>
<line x1="1127.7" y1="678.5" x2="1127.7" y2="713" stroke="#dc3030" stroke-width="1.5"/>
<line x1="1132.2" y1="682.7" x2="1132.2" y2="713" stroke="#4adcdc" stroke-width="1.5"/>
<line x1="1138.2" y1="677.6" x2="1138.2" y2="713" stroke="#4adcdc" stroke-width="1.5"/>
<line x1="1142.7" y1="666" x2="1142.7" y2="713" stroke="#dc3030" stroke-width="1.5"/>
<line x1="1147.2" y1="661.8" x2="1147.2" y2="713" stroke="#dc3030" stroke-width="1.5"/>
<line x1="1151.7" y1="665.1" x2="1151.7" y2="713" stroke="#dc3030" stroke-width="1.5"/>
<line x1="1156.2" y1="659.2" x2="1156.2" y2="713" stroke="#4adcdc" stroke-width="1.5"/>
<line x1="1160.7" y1="665.1" x2="1160.7" y2="713" stroke="#4adcdc" stroke-width="1.5"/>
<line x1="1165.2" y1="666.8" x2="1165.2" y2="713" stroke="#dc3030" stroke-width="1.5"/>
<line x1="1169.7" y1="667.6" x2="1169.7" y2="713" stroke="#4adcdc" stroke-width="1.5"/>
<line x1="1175.7" y1="666.8" x2="1175.7" y2="713" stroke="#dc3030" stroke-width="1.5"/>
<line x1="1180.2" y1="667.6" x2="1180.2" y2="713" stroke="#dc3030" stroke-width="1.5"/>
<line x1="1184.7" y1="671" x2="1184.7" y2="713" stroke="#4adcdc" stroke-width="1.5"/>
<line x1="1189.2" y1="671.8" x2="1189.2" y2="713" stroke="#dc3030" stroke-width="1.5"/>
<line x1="1193.7" y1="671" x2="1193.7" y2="713" stroke="#dc3030" stroke-width="1.5"/>
<line x1="1198.2" y1="673.5" x2="1198.2" y2="713" stroke="#4adcdc" stroke-width="1.5"/>
<line x1="1202.7" y1="679.3" x2="1202.7" y2="713" stroke="#dc3030" stroke-width="1.5"/>
<line x1="1207.2" y1="673.5" x2="1207.2" y2="713" stroke="#dc3030" stroke-width="1.5"/>
<line x1="1213.2" y1="671" x2="1213.2" y2="713" stroke="#4adcdc" stroke-width="1.5"/>
<line x1="1217.7" y1="673.5" x2="1217.7" y2="713" stroke="#4adcdc" stroke-width="1.5"/>
<line x1="1222.2" y1="672.6" x2="1222.2" y2="713" stroke="#4adcdc" stroke-width="1.5"/>
<line x1="1226.7" y1="679.6" x2="1226.7" y2="713" stroke="#4adcdc" stroke-width="1.5"/>
<line x1="1231.2" y1="673.6" x2="1231.2" y2="713" stroke="#4adcdc" stroke-width="1.5"/>
<line x1="1235.7" y1="675.3" x2="1235.7" y2="713" stroke="#dc3030" stroke-width="1.5"/>
<line x1="1240.2" y1="671" x2="1240.2" y2="713" stroke="#dc3030" stroke-width="1.5"/>
<line x1="1244.7" y1="664.9" x2="1244.7" y2="713" stroke="#dc3030" stroke-width="1.5"/>
<line x1="1250.7" y1="654.5" x2="1250.7" y2="713" stroke="#dc3030" stroke-width="1.5"/>
<line x1="1255.2" y1="658.8" x2="1255.2" y2="713" stroke="#dc3030" stroke-width="1.5"/>
<line x1="1259.7" y1="658" x2="1259.7" y2="713" stroke="#4adcdc" stroke-width="1.5"/>
<line x1="1264.2" y1="639.4" x2="1264.2" y2="713" stroke="#dc3030" stroke-width="1.5"/>
<line x1="1268.7" y1="629" x2="1268.7" y2="713" stroke="#4adcdc" stroke-width="1.5"/>
<line x1="1273.2" y1="643.2" x2="1273.2" y2="713" stroke="#dc3030" stroke-width="1.5"/>
<line x1="1277.7" y1="625.9" x2="1277.7" y2="713" stroke="#dc3030" stroke-width="1.5"/>
<line x1="1282.2" y1="634.6" x2="1282.2" y2="713" stroke="#dc3030" stroke-width="1.5"/>
<line x1="1286.7" y1="594.3" x2="1286.7" y2="713" stroke="#dc3030" stroke-width="1.5"/>
<line x1="1292.7" y1="586.9" x2="1292.7" y2="713" stroke="#4adcdc" stroke-width="1.5"/>
<line x1="1297.2" y1="614.1" x2="1297.2" y2="713" stroke="#4adcdc" stroke-width="1.5"/>
<line x1="1301.7" y1="633.2" x2="1301.7" y2="713" stroke="#dc3030" stroke-width="1.5"/>
<line x1="1306.2" y1="636.3" x2="1306.2" y2="713" stroke="#dc3030" stroke-width="1.5"/>
<line x1="1310.7" y1="599" x2="1310.7" y2="713" stroke="#dc3030" stroke-width="1.5"/>
<line x1="1315.2" y1="597.3" x2="1315.2" y2="713" stroke="#dc3030" stroke-width="1.5"/>
<line x1="1319.7" y1="580.8" x2="1319.7" y2="713" stroke="#dc3030" stroke-width="1.5"/>
<line x1="1324.2" y1="579.4" x2="1324.2" y2="713" stroke="#4adcdc" stroke-width="1.5"/>
<line x1="1330.2" y1="574.7" x2="1330.2" y2="713" stroke="#dc3030" stroke-width="1.5"/>
<line x1="1334.7" y1="592.9" x2="1334.7" y2="713" stroke="#dc3030" stroke-width="1.5"/>
<line x1="1339.2" y1="570.4" x2="1339.2" y2="713" stroke="#dc3030" stroke-width="1.5"/>
<line x1="1343.7" y1="588.6" x2="1343.7" y2="713" stroke="#4adcdc" stroke-width="1.5"/>
<line x1="1348.2" y1="617.2" x2="1348.2" y2="713" stroke="#4adcdc" stroke-width="1.5"/>
<line x1="1352.7" y1="633.2" x2="1352.7" y2="713" stroke="#4adcdc" stroke-width="1.5"/>
<line x1="1357.2" y1="634.6" x2="1357.2" y2="713" stroke="#dc3030" stroke-width="1.5"/>
<line x1="1361.7" y1="633.2" x2="1361.7" y2="713" stroke="#dc3030" stroke-width="1.5"/>
<line x1="1367.7" y1="632" x2="1367.7" y2="713" stroke="#4adcdc" stroke-width="1.5"/>
<line x1="1372.2" y1="616.9" x2="1372.2" y2="713" stroke="#dc3030" stroke-width="1.5"/>
<line x1="1376.7" y1="631.4" x2="1376.7" y2="713" stroke="#4adcdc" stroke-width="1.5"/>
<line x1="1381.2" y1="629" x2="1381.2" y2="713" stroke="#dc3030" stroke-width="1.5"/>
<line x1="1385.7" y1="625.9" x2="1385.7" y2="713" stroke="#4adcdc" stroke-width="1.5"/>
<line x1="1390.2" y1="640.6" x2="1390.2" y2="713" stroke="#4adcdc" stroke-width="1.5"/>
<line x1="1394.7" y1="642.4" x2="1394.7" y2="713" stroke="#4adcdc" stroke-width="1.5"/>
<line x1="1399.2" y1="632.8" x2="1399.2" y2="713" stroke="#dc3030" stroke-width="1.5"/>
<line x1="1405.2" y1="614.1" x2="1405.2" y2="713" stroke="#dc3030" stroke-width="1.5"/>
<line x1="1409.7" y1="606.5" x2="1409.7" y2="713" stroke="#4adcdc" stroke-width="1.5"/>
<line x1="1414.2" y1="625" x2="1414.2" y2="713" stroke="#dc3030" stroke-width="1.5"/>
<line x1="1418.7" y1="617.2" x2="1418.7" y2="713" stroke="#4adcdc" stroke-width="1.5"/>
<line x1="1423.2" y1="615.5" x2="1423.2" y2="713" stroke="#4adcdc" stroke-width="1.5"/>
<line x1="1427.7" y1="633.2" x2="1427.7" y2="713" stroke="#dc3030" stroke-width="1.5"/>
<line x1="1432.2" y1="618.6" x2="1432.2" y2="713" stroke="#4adcdc" stroke-width="1.5"/>
<line x1="1436.7" y1="629" x2="1436.7" y2="713" stroke="#4adcdc" stroke-width="1.5"/>
<line x1="1442.7" y1="645" x2="1442.7" y2="713" stroke="#dc3030" stroke-width="1.5"/>
<line x1="1447.2" y1="640.6" x2="1447.2" y2="713" stroke="#4adcdc" stroke-width="1.5"/>
<line x1="1451.7" y1="634.6" x2="1451.7" y2="713" stroke="#dc3030" stroke-width="1.5"/>
<polyline points="3,89 54,95.5 150,104 181,106.5 271,111.6 300,113.2 361,114.6 450,114.8 506,115.4 560,124.1 633,131.3 681,137.3 729,145.8 777,155.4 800,160 826.8,167.4 880.3,183.5 933.9,202.2 987.4,216.9 1041,230.3 1094.5,245 1148,259.8 1191.5,274.2 1233,284.6 1280.7,294.6 1330.5,295 1388.6,300.2 1450.8,303.7" fill="none" stroke="#00e000" stroke-width="1.5" stroke-linejoin="round" />
<polyline points="3,131 15,130 25,129 35,131 45,137 55,139 65,138 75,136 85,133 90,132 100,136 110,146 120,160 130,169 140,175 150,178 160,182 170,185 178,183 185,178 195,166 205,153 215,141 225,130 235,118 243,112 250,108 260,104 270,97 280,92 287,91 295,93 300,95 310,96 320,97 330,100 335,103 341,99 350,103 360,105 368,107 375,106 385,103 395,102 405,100 412,98 420,96 430,94 440,94 450,99 460,107 470,114 480,121 490,133 495,143 500,150 505,157 510,168 515,182 520,193 525,202 530,209 537,215 545,220 555,227 565,237 575,250 583,260 590,264 600,265 606.7,261.6 613.4,258.3 620,255 626.9,251.6 633.6,248.7 640.3,248.2 647,249.3 653.7,250.9 660.4,253.8 667.2,258.3 673.9,263.9 680.6,268.4 687.3,273.3 694,277.3 700.7,284 707.5,290.7 714.2,297.5 720.9,304.2 727.6,314.2 734.3,321 741,324.3 750,325.7 760.3,328.3 770.6,330.9 780.9,336 791.2,345 801.5,351.5 811.7,355.3 822,360.5 832.3,364.3 842.6,368.2 852.9,374.6 863.2,384.9 873.5,396.5 883.8,405.5 894.1,414 899,419.5 907.9,424 916.9,430.7 925.8,439.7 934.8,448.6 943.7,452 954.9,452.7 961.6,449.8 968.4,445.3 975.1,437.5 984,425.1 993,418.4 1001.9,414.6 1010.9,411.7 1019.8,408.4 1028.8,406.1 1035,406 1044,403.8 1052.9,402.2 1061.9,402.7 1070.8,404.9 1079.8,409.4 1088.7,415 1097.7,419.5 1106.6,421.7 1115.6,424.6 1124.5,429.5 1133.5,438.5 1142.5,445.2 1151.4,449.7 1160.4,455.3 1169.3,460.9 1178.3,463.1 1189,464.5 1197.9,465.2 1206.9,466.1 1215.8,466.8 1224.8,466.8 1233.7,466.8 1240.4,464.5 1247.2,460.1 1253.9,455.6 1260.6,452.2 1267.3,446.6 1274,439.9 1280.7,429.8 1287.5,418.6 1294.2,407.5 1300.9,394 1306.5,380.6 1311,367.2 1315.4,353.7 1318.8,342.5 1322.2,329.1 1325.5,317.9 1328.9,309 1333,300 1337.9,290 1342.4,275.8 1346.9,262.4 1351.3,251.2 1355.8,242.2 1360.3,233.3 1364.8,225.4 1369.2,219.8 1373.7,215.4 1378.2,210.9 1382.7,206.4 1387.2,201.9 1391.6,197.5 1396.1,195.2 1400.6,190.7 1405.1,187.4 1409.5,184 1416.3,180.7 1423,179.5 1429.7,179.5 1436.4,179.5 1443.1,179.1 1447.6,179.5 1449.8,181.8" fill="none" stroke="#ff00ff" stroke-width="1.25" stroke-linejoin="round" />
<polyline points="3,138 10,133 20,130 28,126 33,124 40,128 50,136 60,143 67,145 75,141 85,134 90,133 100,143 105.2,145 112,153.9 116.4,167.3 121,178.5 125.4,196.4 132,207.6 138.8,214.3 145.5,216.6 153,217 160,200 170,178 180,158 190,140 200,120 207,108 215,103 225,98 230,95 236,89 240,92 245,102 250,104 258,104 263,103 270,97 280,94 290,90 295,87 300,85 305,85 309,87 313,96 320,101 325,106 330,112 340,114 350,116 360,118 368,114 375,105 385,100 392,97 400,93 410,89 420,87 425,86 432,88 440,93 450,105 455,118 460,128 465,137 470,145 475,152 480,160 485,167 490,171 495,175 500,180 505,192 510,210 515,223 520,233 525,241 530,255 535,265 540,272 545,275 550,272 555,268 562,268 570,268 580,266 590,263 600,257 604.5,255 610,250.4 615.7,246 622.4,242 629,238.8 635.8,236 641.4,238 647,242.6 653.7,249.3 659.3,255 665,263.9 669.4,275 673.9,286.3 678.4,295.2 682.8,302 688.4,308.6 694,312 698.5,314.2 703,316.5 707.5,321 713,323.2 718.6,324.3 725.4,325.4 731,330 736.6,334.4 743.3,335.5 750,336 757.7,335.5 765.4,336 773.2,338.6 780.9,341.2 786,345 791.2,351.5 796.3,359.2 801.5,365.6 806.6,370.7 811.7,375.9 816.9,379.8 822,382.3 827.2,383.6 834.9,382.3 842.6,379.8 847.8,378.5 852.9,379.8 858,382.3 863.2,388.8 868.3,397.8 873.5,405.5 878.6,415.8 883.8,426 888.9,439 894.5,454.2 899,461 903.4,464.3 907.9,465.4 912.4,465.4 916.9,465.4 921.3,464.3 925.8,462.5 930.3,461 934.8,456.5 939.3,452 943.7,448.6 950.4,444.2 957.2,438.6 963.9,431.9 968.4,424 972.8,415 977.3,407.2 981.8,399.4 988.5,394.9 995.2,392.7 1001.9,392.2 1008.6,392.7 1014.2,396 1018.7,400.5 1024.3,402.8 1031,407.2 1035.5,412.8 1039.5,412.8 1046.2,411.6 1052.9,411.2 1059.6,409.4 1066.3,407.2 1073,406 1078.7,407.2 1083.1,411.6 1088.7,417.2 1093.2,425 1097.7,430.7 1104.4,434 1111.1,437.4 1115.6,440.7 1120.1,446.3 1124.5,453 1129,458.6 1133.5,464.2 1138,467.2 1142.5,468 1149.2,467.6 1155.9,468 1162.6,469.8 1169.3,469.4 1176,468 1186.7,465.7 1193.4,463.9 1202.4,463.4 1211.3,463.4 1220.3,465.2 1229.3,466.8 1238.2,466.8 1242.7,462.3 1247.2,455.6 1253.9,447.7 1259.5,439.9 1264,431 1268.4,420.9 1272.9,407.5 1277.4,396.3 1281.9,385.1 1286.3,371.6 1290.8,358.2 1295.3,349.3 1299.8,340.3 1303.1,331.3 1306.5,320.1 1309.8,311.2 1314.3,300 1318.8,279 1323.3,256.7 1324.5,251.2 1329,237.7 1333.4,224.3 1337.9,210.9 1342.4,199.7 1349.1,190.7 1355.8,186.3 1362.5,185.1 1369.2,184 1376,183.6 1382.7,188.5 1387.2,195.2 1391.6,199.7 1396.1,200.8 1400.6,199.7 1405.1,195.2 1409.5,190.7 1416.3,181.8 1423,175.1 1429.7,170.6 1434.2,166.1 1438.7,161.6 1442,159.8 1445.4,161.2 1449.8,163.9" fill="none" stroke="#ffff00" stroke-width="1.25" stroke-linejoin="round" />
<polyline points="4,126 9,123.7 17.9,117.6 22.4,118 28,117.6 32.5,120.3 38,131.5 44.8,145 53.7,158.4 58.2,159.5 62.7,153.9 67.2,145 71.6,136 78.4,123.7 84,117 88.4,114.7 91.8,122.5 96.3,136 103,151.6 109.7,176.3 113,196.4 118.6,209.8 124.2,221 129.8,233.3 136.6,227.7 143.3,223.3 150,208 154,195 160,175 166,155 170,145 175,135 180,130 185,127 190,124 195,115 200,100 206,88 215,80 222,86 228,90 235,90 240,98 245,108 250,117 255,117 260,115 264,106 268,90 275,78 280,74 285,78 292,88 300,95 305,97 310,103 315,110 320,115 325,118 330,121 335,123 340,121 345,123 350,120 355,114 360,113 365,113 370,107 375,100 380,91 385,87 390,86 395,88 400,88 405,91 410,92 415,89 420,87 425,86 430,86 435,94 440,103 445,113 450,125 455,140 460,153 465,164 470,165 475,164 480,165 485,167 490,173 495,178 500,188 505,198 508,215 512,233 517,250 522,263 527,277 532,280 538,281 542,281 546,274 550,268 555,261 561,258 566,261 570,268 575,270 580,271 585,268 590,258 595,250 600,243 604.5,238 609,237.5 613.4,239.3 618,241 622.4,240.4 627,238 631.3,236 635.8,233.6 640.3,234.8 644.8,240.4 649.2,247 653.7,257 658.2,270.6 662.7,284 667.2,297.5 671.6,311 677.2,324.3 682.8,330 687.3,326.6 691.8,317.6 696.3,309.8 701.9,306.4 706.3,312 710.8,319.8 715.3,330 721,337.7 725.4,342.2 729.8,345.6 734.3,343.3 738.8,337.7 744.4,330 750,325.7 755.1,328.3 760.3,332.2 765.4,338.6 770.6,345 775.7,351.5 780.9,355.3 786,361.7 791.2,368.2 796.3,372 801.5,378.5 806.6,384.9 811.7,390 816.9,390.6 822,390 827.2,384.9 832.3,379.8 837.5,374.6 842.6,370.7 847.8,373.3 852.9,377.2 858,384.9 863.2,402.9 868.3,420.9 873.5,438.9 878.6,457 883.8,467.2 888.9,477.5 892.8,482.7 896.7,473.3 901.2,464.3 905.7,457.6 911.3,450.9 916.9,445.3 921.3,453.1 925.8,459.8 931.4,462.1 935.9,457.6 939.3,448.7 943.7,437.5 948.2,428.5 953.8,417.3 958.3,411.7 962.8,411 967.2,411.7 971.7,406 976.2,398.3 980.7,390.4 986.3,382.6 991.9,378.1 997.5,382.6 1001.9,386 1006.4,392.7 1010.9,403.9 1015.4,412.8 1019.8,417.3 1025.4,420.7 1029.9,427.4 1034.4,426.3 1039.5,411.6 1044,405 1048.4,400.4 1052.9,397 1057.4,399.3 1061.9,403.8 1066.3,408.3 1070.8,409.4 1075.3,411.6 1079.8,417.2 1084.2,419.5 1088.7,424 1093.2,430.7 1097.7,441.9 1102.2,446.3 1106.6,449.7 1111.1,453 1115.6,454.2 1120.1,456.4 1124.5,458.6 1129,465.4 1133.5,471 1138,476.6 1142.5,477 1146.9,477.7 1151.4,474.3 1155.9,468.7 1160.4,463.1 1164.8,462 1169.3,464.2 1173.8,463.6 1178.3,463.1 1184.5,464.5 1189,463.4 1193.4,461.2 1197.9,460.7 1202.4,463 1206.9,464.5 1211.3,464.5 1215.8,465.7 1220.3,465.7 1224.8,467.9 1229.3,471.3 1232.6,472.4 1236,470.1 1239.3,465.7 1242.7,456.7 1246,445.5 1249.4,433.2 1252.8,422 1257.2,407.5 1261.7,396.3 1266.2,387.3 1270.7,381.7 1275.1,376.1 1279.6,370.5 1284.1,358.2 1287.5,344.8 1289.7,331.3 1293,322.4 1296.4,315.7 1300.9,300 1305.4,283.6 1309.8,270 1314.3,256.7 1318.8,234.3 1323.3,214.2 1324.5,206.4 1329,193 1333.4,184 1337.9,177.3 1342.4,176.2 1346.9,179.5 1351.3,180.7 1355.8,181.8 1360.3,188.5 1364.8,193 1369.2,188.5 1373.7,184 1378.2,184 1382.7,190.7 1387.2,199.7 1391.6,208.6 1396.1,213.1 1400.6,206.4 1405.1,193 1409.5,177.3 1414,161.6 1418.5,151.6 1423,143.7 1427.5,144.8 1431.9,148.2 1436.4,154.9 1440.9,163.9 1445.4,175.1 1449.8,181.8 1452,185" fill="none" stroke="#eeeeee" stroke-width="1.25" stroke-linejoin="round" />
<polyline points="3.3,687.7 13.4,686.8 23.4,686 33.5,685.2 43.5,683.8 53.5,683.5 65.3,683.2 70.3,681.8 75.3,680.1 80.3,679 87,678.5 93.7,678 100.4,676.8 107.1,677.6 113.8,677.6 120.5,678.1 127.2,677.6 133.9,677.6 138.9,678.5 143.9,680.1 150.6,681 157.3,679.3 164,677.6 170.7,676.8 177.4,676 184.1,674.8 190.8,672.6 197.5,670.1 202.5,667.6 209.2,666.8 215.9,668.4 222.6,668.4 230.9,667.6 237.6,666.8 244.3,667.6 251.7,669.3 258.4,668.4 265.1,666.8 270.1,663.4 275.1,660.9 281.8,660.9 288.5,662.6 295.2,661.7 301.9,663.4 308.6,664.2 313.6,665.9 320.3,666.4 327,665.9 333.7,666.8 342.1,666.8 352.1,666.8 357.1,667.6 362.1,670.1 368.8,670.1 375.5,670.9 383.9,671.8 392.3,671.4 402.3,671.4 407.3,672.6 414,673.4 422.4,672.6 429,672.6 437.4,672.1 445.8,671.8 454.2,671.8 460.9,671.8 465.9,674.3 472.6,675.1 479.3,676.5 487.6,677.6 490,676.8 495,678.5 500,680.5 505.1,680.1 510.1,679.3 516.8,676.8 523.5,676 530.2,676 536.9,676.5 543.5,676 550.2,674.3 556.9,672.6 563.6,672.6 570.3,672.6 577,672.6 583.7,671.8 590.4,670.1 597.1,668.4 603.8,669.3 610.5,668.4 617.2,669.3 623.9,668.4 630.6,666.8 637.3,666.4 644,667.6 650.6,670.1 657.3,670.1 664,670.9 670.7,673.4 677.4,675.1 684.1,676.5 690.8,677.6 699.2,677.6 705.9,679.3 714.2,679.3 724.3,679.3 731,679.3 743.4,680.2 751.7,680.2 760.1,680.5 768.5,680.2 776.8,679.3 785.2,678.5 793.6,678.5 801.9,678.8 810.3,679.3 817,677.6 823.7,677.1 830.4,677.6 837.1,677.6 843.8,677.1 852.1,677.6 858.8,678.5 865.5,679.3 872.2,678.2 878.9,677.6 885.6,677.1 892.3,677.1 897.3,676 900.7,673.5 905.7,671.8 910.7,671.5 915.7,671.8 920.7,672.6 927.4,673.1 932.5,673.1 937.5,671 942.5,669.8 947.5,670.1 952.5,671 957.6,670.1 962.6,669.8 967.6,668.8 972.6,664.3 977.6,660.9 986.7,660.9 993.4,660.9 1000.1,659.2 1005.1,658.7 1010.1,657.6 1015.1,659.2 1020.2,661.4 1026.9,664.3 1033.5,666.4 1040.2,667.1 1046.9,668.1 1053.6,668.4 1060.3,668.4 1067,669.3 1073.7,670.1 1080.4,671 1087.1,672.1 1093.8,674.3 1100.5,676.5 1107.2,677.6 1113.9,676.8 1120.6,676 1127.3,677.1 1134,677.6 1140.6,676 1147.4,673.5 1154,671 1160.7,668.4 1167.4,667.6 1174.1,665.9 1180.8,665.1 1187.5,665.9 1194.2,666.8 1200.9,668.4 1207.6,670.1 1214.3,671 1221,671.8 1233.7,673.1 1241.5,672.7 1247.5,668.9 1254.5,668.4 1259.7,666.1 1266.6,659.7 1273.6,654.5 1280.5,648.4 1285.7,641.5 1290.9,630.2 1297.8,626.8 1304.8,622.4 1311.7,618.1 1316.9,615.5 1322.1,605.1 1329,599 1336,597.8 1342.9,595.5 1349.8,592.9 1352.4,591.6 1358.5,597.3 1363.7,600.7 1368.9,605.4 1374.1,610.3 1381.1,616.4 1386.3,624.2 1391.5,630.2 1396.7,631.1 1401.9,631.1 1407.1,627.6 1412.3,624.5 1419.2,625 1426.2,625 1433.1,623.3 1438.3,621.6 1443.5,622.8 1450.5,625" fill="none" stroke="#ffff00" stroke-width="1.25" stroke-linejoin="round" />
<polyline points="3.3,686.8 10,686 20.1,685.2 28.4,685.2 36.8,684.3 45.2,682.6 50.2,684.3 56.9,683.5 66.9,682.6 72,678.5 77,675.1 83.7,674.3 90.4,674.8 97.1,676.8 103.7,678.5 108.8,680.1 117.1,679.3 123.8,678.5 130.5,676.8 137.2,677.6 143.9,681.8 150.6,684.3 157.3,681.8 164,676.8 170.7,670.1 177.4,668.4 182.4,669.3 187.4,670.9 192.4,673.4 197.5,670.1 202.5,665.1 209.2,662.6 215.9,662.6 220.9,666.8 227.6,671.8 234.3,672.6 239.3,672.6 244.3,668.4 251.7,665.1 258.4,663.4 266.8,662.6 271.8,658.4 276.8,658.4 281.8,660.1 288.5,661.7 295.2,665.1 300.2,667.6 305.2,668.4 313.6,668.4 318.6,665.9 327,664.2 333.7,665.1 340.4,666.8 348.7,668.4 355.4,670.1 362.1,671.8 367.2,672.6 375.5,672.6 382.2,670.9 388.9,670.1 395.6,670.9 402.3,671.8 407.3,674.3 412.3,676 419,675.1 424,672.6 429,670.9 434.1,670.1 439.1,670.9 445.8,671.8 455.8,672.6 462.5,673.4 467.6,676 474.3,678.5 482.6,679.3 489.3,680.1 495,680.1 500,681.5 505.1,681 510.1,679.3 515.1,677.6 520.1,675.1 525.1,674.3 530.2,674.8 535.2,676 540.2,676.8 545.2,675.1 550.2,673.1 556.9,670.9 563.6,670.1 570.3,670.1 577,670.9 583.7,671.8 588.7,670.1 593.7,668.4 598.8,666.8 603.8,665.9 608.8,666.3 613.8,667.6 620.5,669.3 625.5,668.4 630.6,667.6 635.6,666.4 642.3,666.3 647.3,668.4 652.3,670.9 657.3,673.4 662.4,676 667.4,678.5 672.4,677.6 677.4,677.6 684.1,679.3 690.8,678.5 699.2,678.5 705.9,679.3 712.6,679.3 719.3,679.3 725.9,680.1 731,680.1 741.7,680.2 748.4,680.5 755.1,681 761.8,681.8 768.5,679.3 775.2,678.8 780.2,677.6 785.2,676 791.9,677.6 798.6,678.8 805.3,679.3 810.3,680.2 817,677.6 823.7,676.5 828.7,676 833.7,678.5 838.7,678.2 845.4,677.6 852.1,678.8 858.8,679.3 863.8,680.2 868.9,678.2 875.6,677.6 882.3,675.1 889,676 894,675.1 899,671 904,668.8 909,668.4 914.1,668.8 919.1,671.8 924.1,676 929.1,677.6 934.1,676 939.1,671 944.2,666.8 949.2,665.4 955.9,662.6 960.9,665.1 965.9,668.4 972.6,662.6 977.6,660.1 985,654.2 990,653.1 995.1,655.1 1000.1,658.4 1005.1,660.9 1010.1,664.3 1015.1,667.6 1020.2,669.3 1025.2,670.1 1030.2,669.8 1035.2,671 1040.2,667.6 1046.9,665.9 1053.6,665.9 1060.3,667.6 1067,670.1 1073.7,672.6 1078.7,674.3 1085.4,674.3 1090.4,676 1097.1,677.6 1103.8,680.2 1110.5,680.5 1115.5,678.5 1120.6,676 1127.3,674.3 1134,675.1 1139,675.1 1144,672.6 1149,671 1154,666.8 1159.1,662.6 1164.1,662.1 1170.8,662.6 1177.5,664.8 1184.1,666.8 1190.8,668.4 1197.5,669.8 1204.2,672.6 1210.9,673.1 1217.6,673.1 1224.3,671.8 1232.8,671.8 1241.5,672.4 1247.5,666.6 1252.7,664 1258.8,660.6 1264.9,651.9 1270.1,646.7 1274.4,643.2 1280.5,636.3 1285.7,628.5 1290.9,615.5 1297.8,610.3 1304.8,611.2 1310,611.7 1315.2,615.1 1322.1,603.4 1328.2,586.9 1334.2,584.3 1339.4,578.2 1344.6,580.5 1349.8,589.5 1355,601.6 1360.3,613.8 1365.5,629.4 1370.7,629.7 1377.6,629.7 1384.5,626.8 1389.7,630.2 1394.9,633.7 1400.1,633.7 1405.3,627.6 1412.3,622.4 1417.5,617.2 1422.7,614.6 1427.9,619 1433.1,620.7 1438.3,624.2 1443.5,629.4 1447,632.8 1450.5,632.8" fill="none" stroke="#eeeeee" stroke-width="1.25" stroke-linejoin="round" />
<polyline points="3.6,825.7 7.1,816.8 10.7,807.9 14.2,800.8 17.8,796.4 21.3,793.7 24.9,791.6 28.5,790.1 32,789.2 34.7,793.7 38.2,802.6 42.7,811.5 46.2,817.7 51.6,823 56,824.8 59.6,824.8 64,822.1 67.6,817.7 71.1,813.2 74.7,808.8 78.2,805.2 81.8,803.5 85.4,802.6 88.9,804.4 92.5,810.6 96.9,818.6 101.4,825.7 106.7,834.6 111.2,842.6 117.4,846.2 122.7,848.5 126.3,850.2 129.8,848.8 135.2,845.3 140.5,841.7 144,836.4 147.6,828.4 151.2,819.5 154.7,809.7 158.3,802.6 161.8,796.4 166.3,791 170.7,788.4 176.1,784.8 181.4,782.1 186.7,780.3 192.1,780.3 197.4,778.6 200,776.8 205.3,780.3 210.7,783.9 216,788.4 219.6,793.7 223.1,799 228.5,802.6 233.8,807.9 238.2,816.8 242.7,824.8 248,827.5 251.6,823.9 256.9,820.4 262.2,814.1 266.7,807 271.1,799.9 274.7,795.5 278.2,794 281.8,794.6 285.4,796.4 290.7,801.7 296,807.9 299.6,815 303.1,822.1 306.7,827.5 311.2,833.7 314.7,836.4 318.3,838.1 321.8,835.5 326.3,834.6 329.8,835.5 333.4,838.1 336.9,833.7 342.3,828.4 347.6,823.9 352.9,820.4 358.3,813.2 363.6,807 369,801.7 372.5,797.2 376.1,792.8 379.6,788.4 384.1,784.4 388.5,784.8 393,786.6 396.5,787.5 400,788.4 405.3,795.5 410.7,801.7 416,803.5 421.3,800.8 424.9,800.8 429.3,802.6 433.8,811.5 438.2,822.1 442.7,831 448,838.1 453.4,843.5 458.7,848.8 464,851.5 468.5,850.6 472.9,848.5 478.2,847 483.6,846.2 488.9,846.7 494.3,847 499.6,850.6 504.9,853.3 510.3,855 517.4,856.8 522.7,857.7 528,857.7 533.4,855.9 538.7,853.3 544,850.6 547.6,844.4 551.2,835.5 554.7,827.5 558.3,821.3 561.8,818.6 566.3,818.6 570.7,820.4 575.2,819.5 579.6,816.8 585,814.1 590.3,808.8 595.6,803.5 600,797.2 604.4,791.9 608.9,789.8 613.3,791.9 617.8,793.7 622.2,791.9 626.7,790.5 631.1,789.2 635.6,793.7 640.9,800.8 646.2,811.5 651.6,823.9 656.9,834.6 662.2,843.5 667.6,848.8 672.9,851.5 678.2,853.3 681.8,852.4 687.1,847 692.5,839.9 697.8,831 702.3,825.7 706.7,826.6 711.2,830.1 716.5,832.8 721.8,835.5 726.3,837.3 731.6,835.5 736,833.7 740.5,827.5 745.8,818.6 750.3,812.4 753.8,811.5 756.5,814.1 760.9,817.7 766.3,820.4 771.6,825.7 776.9,831.9 783.2,839.9 788.5,846.2 793.8,849.7 800,852.4 805.3,855 812.4,857.7 817.8,851.5 823.1,845.3 828.5,832.8 834.7,820.4 840,811.5 844.5,807 848,804.4 852.5,811.5 858.7,820.4 864.9,831 871.1,837.3 878.2,845.3 884.5,850.6 889.8,854.1 894.3,848.8 899.6,839.9 906.7,829.3 913.8,822.1 920.9,818.6 928,815.9 935.2,813.2 940.5,807 947.6,800.8 954.7,794.6 961.8,791.9 968.9,789.2 976.1,786.6 983.2,783.9 990.3,782.1 994.7,783.9 1000,791 1003.6,796.4 1007.1,802.6 1010.7,811.5 1014.2,820.4 1017.8,828.4 1022.2,831 1026.7,834.6 1030.2,838.1 1033.8,837.3 1038.2,829.3 1042.7,820.4 1047.1,813.2 1050.7,810.6 1055.1,809.7 1058.7,812.4 1064,815 1069.4,817.7 1074.7,820.4 1078.2,823 1081.8,828.4 1087.1,834.6 1092.5,840.8 1096.9,846.2 1102.3,849.7 1106.7,851.5 1112,850.6 1117.4,850.6 1122.7,851.5 1128,851.5 1133.4,853.3 1137.8,855.9 1142.3,850.6 1145.8,843.5 1150.3,835.5 1154.7,827.5 1160.1,820.4 1165.4,814.1 1170.7,810.6 1176.1,806.1 1180.5,804.4 1185,805.2 1189.4,807 1193.8,806.1 1197.4,808.8 1200,811.5 1204.4,815 1208.9,815.9 1213.3,815.9 1217.8,817.7 1222.2,820.4 1226.7,827.5 1231.7,833.7 1235.6,831 1240,822.1 1244.5,813.2 1248.9,805.2 1253.4,797.2 1258.7,791.9 1264,787.5 1268.5,783 1272.9,781.2 1278.2,780.3 1283.6,779.1 1288.9,777.7 1294.3,778.6 1299.6,780.3 1304.9,781.6 1310.3,780.9 1315.6,779.5 1320.9,778 1324.5,776.8 1328,777.7 1331.6,778.6 1336,777.7 1340.5,777.7 1344.9,782.1 1349.4,790.1 1354.7,800.8 1360.1,807.9 1366.3,813.2 1371.6,815.9 1376.9,818.6 1381.4,823.9 1385.8,829.3 1390.3,834.6 1394.7,839.8 1397.2,838.8 1400.2,832.8 1404.2,825.7 1408.2,818.7 1413.3,810.6 1417.3,802.6 1422.3,797.6 1427.4,795.5 1431.4,796.5 1435.4,801.6 1439.4,808.6 1443.5,815.7 1447.5,820.7 1450.5,823.7" fill="none" stroke="#ffff00" stroke-width="1.25" stroke-linejoin="round" />
<polyline points="3.6,805.2 7.1,795.5 10.7,786.6 13.3,783.9 17.8,780.9 20.5,783 24,785.7 26.7,783 29.3,782.1 32,787.5 34.7,804.4 37.3,816.8 40.9,827.5 46.2,829.3 51.6,831 56,833.7 59.6,825.7 64,818.6 67.6,807.9 71.1,800.8 74.7,799 79.1,796.4 83.6,799 87.1,803.5 90.7,815.9 94.3,829.3 96.9,836.4 101.4,841.7 106.7,848.8 112,856.8 117.4,853.3 120.9,850.6 124.5,851.5 127.2,852.4 129.8,847 135.2,839.9 141.4,831 145.8,815.9 149.4,802.6 152.9,793.7 156.5,788.4 161.8,784.8 167.2,778.6 171.6,780.9 177.8,778.6 185,777.7 192.1,777.7 197.4,776.8 200,775.9 204.4,782.1 208.9,791.9 213.3,794.6 217.8,803.5 221.3,810.6 224.9,811.5 228.5,807.9 232,814.1 235.6,823.9 239.1,834.6 242.7,841.7 246.2,836.4 249.8,820.4 253.4,814.1 256.9,809.7 260.5,804.4 264,797.2 267.6,789.2 271.1,785.7 274.7,787.5 278.2,790.1 281.8,793.7 285.4,799.9 288.9,807.9 292.5,816.8 296,823.9 299.6,831.9 303.1,839.9 306.7,841.7 310.3,844.4 313.8,851.5 317.4,839 320.9,831 323.6,829.3 326.3,833.7 329.8,836.4 333.4,837.3 336.9,829.3 340.5,818.6 344,817.7 347.6,818.6 351.2,815 354.7,811.5 358.3,804.4 363.6,797.2 369,790.1 372.5,784.8 376.1,780.3 379.6,778.6 383.2,775.9 385.8,777.7 388.5,784.8 392.1,791.9 395.6,790.1 400,791.9 403.6,804.4 407.1,811.5 411.6,816.8 415.1,809.7 418.7,799 421.3,792.8 424.9,797.2 428.5,809.7 432,820.4 435.6,829.3 439.1,839.9 442.7,847 446.2,852.4 450.7,855.9 455.1,855.9 459.6,857.7 463.1,859.5 466.7,852.4 470.2,847.9 474.7,844.4 478.2,843.5 482.7,847 487.1,851.5 490.7,848.8 494.3,848.8 498.7,854.1 503.1,856.8 508.5,858.6 513.8,859.5 518.3,860.4 521.8,857.7 526.3,855.9 530.7,852.4 535.2,850.6 540.5,850.6 544,847.9 547.6,829.3 551.2,815 555.6,802.6 559.2,802.6 561.8,805.2 564.5,813.2 568.1,825.7 571.6,828.4 575.2,818.6 578.7,812.4 582.3,809.7 585.8,811.5 589.4,800.8 593,793.7 596.5,789.2 600,785.7 604.4,780.9 608.9,786.6 612.4,795.5 616.9,796.4 621.3,790.1 626.7,788.4 631.1,790.1 635.6,802.6 641.8,815 646.2,831 650.7,841.7 655.1,848.8 660.5,852.4 664.9,857.7 669.4,860.4 672.9,855.9 676.5,855.9 680,857.7 683.6,845.3 687.1,836.4 690.7,827.5 694.3,818.6 697.3,812.4 700.5,815 704,819.5 706.7,825.7 709.4,835.5 712.9,838.1 716.5,840.8 720.9,837.3 725.4,837.3 728.9,835.5 732.5,833.7 736.9,831 740.5,816.8 744,805.2 748.5,799 752.1,802.6 754.7,809.7 757.4,820.4 760.9,825.7 764.5,827.5 768.1,825.7 770.7,831 775.2,838.1 779.6,844.4 785,852.4 790.3,855 794.7,857.7 800,854.1 804.4,858.6 808.9,861.3 813.3,854.1 817.8,843.5 823.1,831 826.7,816.8 830.2,807.9 833.8,801.7 838.2,795.5 842.7,797.2 847.1,796.4 849.8,806.1 853.4,818.6 856.9,831 861.4,843.5 865.8,848.8 871.1,848.8 876.5,854.1 880.9,857.7 885.4,856.8 889.8,860.4 892.5,850.6 896,834.6 899.6,823.9 904.9,814.1 910.3,811.5 915.6,812.4 920.9,815 926.3,816.8 931.6,813.2 936.9,810.6 940.5,798.1 945.8,791.9 951.2,788.4 955.6,787.5 960.1,790.1 963.6,792.8 968.1,785.7 972.5,783 977.8,783 982.3,778.6 986.7,778.6 991.2,782.1 995.6,793.7 1000,803.5 1003.6,809.7 1007.1,818.6 1010.7,832.8 1015.1,841.7 1019.6,845.3 1023.1,841.7 1026.7,841.7 1030.2,845.3 1034.7,839.9 1038.2,820.4 1041.8,806.1 1045.3,797.2 1048,793.7 1051.6,799 1055.1,804.4 1058.7,813.2 1061.4,821.3 1065.8,823.9 1071.1,825.7 1076.5,828.4 1080,838.1 1083.6,844.4 1088.9,848.8 1094.3,855.9 1101.4,855.9 1106.7,855.9 1110.3,852.4 1114.7,849.7 1118.3,849.7 1122.7,852.4 1126.3,852.4 1131.6,857.7 1136.9,860.4 1140.5,848.8 1144,831.9 1147.6,820.4 1152.1,811.5 1156.5,807.9 1160.9,805.2 1165.4,803.5 1169.8,806.1 1174.3,802.6 1177.8,799 1180.5,798.1 1183.2,811.5 1186.7,810.6 1189.4,806.1 1193,801.7 1195.6,809.7 1200,820.4 1202.7,823 1206.2,819.5 1210.7,815 1214.2,815.9 1217.8,820.4 1222.2,829.3 1226.7,839.9 1231.7,847 1234.7,827.5 1238.2,809.7 1241.8,799 1246.2,790.1 1251.6,783.9 1256.9,781.2 1261.4,779.5 1264.9,776.8 1270.2,776.8 1274.7,777.7 1279.1,778.6 1282.7,775.5 1286.3,773.8 1289.8,775 1294.3,779.5 1297.8,783 1301.4,785.7 1305.8,783 1310.3,779.5 1314.7,775.9 1318.8,773.8 1322.7,774.1 1326.3,776.8 1329.5,780.3 1332.5,777.7 1336,776.8 1339.6,777.7 1343.2,783 1346.7,799 1350.3,811.5 1352.9,816.8 1357.4,816.8 1361.8,819.5 1366.3,822.1 1370.7,821.3 1375.2,823 1379.6,826.6 1384.1,833.7 1388.5,843.5 1393,847 1395.6,849.7 1399.2,826.7 1402.2,812.7 1406.2,804.6 1410.2,796.5 1414.3,789.5 1418.3,785.5 1422.3,788.5 1427.4,791.5 1430.4,794.5 1434.4,802.6 1438.4,814.7 1442.5,826.7 1445.5,838.8 1448.5,837.8 1450.5,836.8" fill="none" stroke="#eeeeee" stroke-width="1.25" stroke-linejoin="round" />
<polyline points="3.6,761.7 8,752.8 13.3,744.8 17.8,751 20.5,758.1 23.1,769.7 26.7,767.9 28.5,766.1 30.2,774.1 32.9,788.4 35.6,811.5 38.2,841.7 41.8,871 45.3,857.7 48.9,851.5 52.5,848.8 55.1,852.4 56.9,845.3 60.5,823.9 64.9,800.8 68.5,783 70.2,775 72.9,776.8 78.2,777.7 80.9,780.3 83.6,786.6 87.1,800.8 90.7,818.6 94.3,845.3 96.9,875.5 103.1,875.5 107.6,877.3 112,884.4 115.6,873.7 120.9,856.8 124.5,859.5 126.3,862.2 128,850.6 132.5,831 136.9,822.1 141.4,815 144,797.2 146.7,775.9 149.4,767 152.1,758.1 154.7,752.8 158.3,752.8 163.6,757.2 168.1,752.8 170.7,761.7 173.4,767.9 176.1,766.1 179.6,766.7 183.2,769.7 186.7,776.8 192.1,778.6 195.6,771.5 200,773.2 203.6,777.7 207.1,786.6 209.8,804.4 214.2,815 216.9,822.1 220.5,837.3 224,835.5 226.7,823.9 229.3,817.7 232.9,831 235.6,845.3 238.2,864.8 242.7,876.4 246.2,857.7 248.9,834.6 251.6,806.1 255.1,791.9 258.7,784.8 262.2,775 265.8,759.9 270.2,758.1 272.9,762.6 275.6,767.9 278.2,777.7 280.9,790.1 283.6,795.5 287.1,809.7 290.7,827.5 294.3,843.5 297.8,859.5 301.4,870.2 304.9,873.7 308.5,865.7 311.2,871.9 313.8,878.2 316.5,848.8 319.2,838.1 321.8,818.6 324.5,827.5 327.2,832.8 329.8,839.9 333.4,847 336,832.8 338.7,813.2 342.3,794.6 344,799 346.7,809.7 350.3,804.4 353.8,798.1 357.4,790.1 360.1,776.8 363.6,772.3 367.2,766.1 370.7,759.9 374.3,753.7 377.8,756 380.5,758.1 383.2,757.2 385.8,767 387.6,779.5 390.3,791.9 393,802.6 395.6,788.4 400,798.1 403.6,816.8 407.1,839.9 411.6,842.6 415.1,818.6 418.7,790.1 421.3,777.7 424,791.9 427.6,806.1 431.1,823.9 433.8,845.3 435.6,866.6 439.1,875.5 443.6,887 448.9,888.8 453.4,875.5 456.9,872.8 462.2,875.5 464.9,866.6 467.6,848.8 471.1,838.1 474.7,834.6 477.4,834.6 480.9,843.5 484.5,852.4 487.1,858.6 489.8,843.5 491.6,835.5 493.4,841.7 496.9,851.5 500.5,859.5 504.9,869.3 508.5,869.3 512.9,859.5 518.3,867.5 521.8,859.5 524.5,855.9 528,853.3 531.6,847 534.3,842.6 537.8,843.5 542.3,842.6 544.9,823.9 547.6,797.2 551.2,780.3 553.8,767 556.5,758.1 559.2,767 560.9,775 563.6,795.5 566.3,816.8 568.9,829.3 571.6,840.8 574.3,827.5 577,811.5 580.5,794.6 583.2,802.6 585.8,808.8 588.5,791.9 592.1,770.6 594.8,766.1 597.4,763.5 600,759.9 604.4,758.1 607.1,770.6 609.8,786.6 613.3,801.7 616.9,799.9 620.5,791.9 624,785.7 627.6,783.9 631.1,784.8 633.8,795.5 636.5,807.9 640,825.7 643.6,848.8 646.2,868.4 650.7,879 655.1,887.9 658.7,880.8 660.5,878.2 664,881.7 668.5,880.8 672,864.8 674.7,863 678.2,864.8 680.9,855.9 683.6,839.9 687.1,823.9 690.7,806.1 694.3,788.4 697.3,776.8 699.6,786.6 702.3,799 704.9,815 707.6,831 710.3,855.9 713.8,855 717.4,854.1 720.9,841.7 724.5,838.1 728,837.3 731.6,834.6 735.2,833.7 737.8,820.4 740.5,799 743.2,775.9 744.9,769.7 748.5,768.8 751.2,779.5 753.8,793.7 756.5,820.4 759.2,839.9 762.7,845.3 765.4,839.9 768.1,834.6 770.7,843.5 774.3,859.5 777.8,866.6 782.3,871.9 785.8,878.2 788.5,874.6 792.1,872.8 795.6,873.7 800,859.5 804.4,867.5 808.9,871 811.6,863 813.3,854.1 816.9,838.1 820.5,820.4 824,802.6 826.7,779.5 828.5,768.8 832.9,761.7 838.2,755.5 840.9,767 843.6,775 847.1,776.8 848.9,788.4 850.7,809.7 852.5,834.6 855.1,855.9 858.7,868.4 862.2,875.5 865.8,879.9 868.5,875.5 871.1,871 874.7,872.8 878.2,874.6 880.9,873.7 883.6,870.2 886.3,871.9 888.9,873.7 890.7,863 892.5,841.7 895.1,820.4 897.8,806.1 900.5,791.9 904,782.1 907.6,779.5 910.3,782.1 913.8,787.5 917.4,795.5 920.9,806.1 924.5,811.5 927.2,812.4 929.8,807.9 933.4,805.2 936.9,802.6 938.7,779.5 941.4,772.3 945.8,770.6 951.2,770.6 955.6,773.2 959.2,781.2 963.6,793.7 966.3,786.6 968.9,775 973.4,770.6 977.8,777.7 982.3,767.9 985.8,768.8 989.4,772.3 992.1,778.6 994.7,793.7 997.4,809.7 1000,827.5 1003.6,836.4 1007.1,845.3 1009.8,863 1012.4,877.3 1015.1,884.4 1019.6,877.3 1022.2,868.4 1025.8,856.8 1030.2,860.4 1033.8,847 1036.5,820.4 1039.1,797.2 1042.7,770.6 1045.3,761.7 1048,757.2 1050.7,770.6 1053.4,788.4 1056,806.1 1058.7,820.4 1061.4,835.5 1065.8,837.3 1071.1,837.3 1076.5,839.9 1079.1,852.4 1081.8,866.6 1087.1,870.2 1090.7,872.8 1094.3,877.3 1097.8,870.2 1102.3,866.6 1106.7,862.2 1110.3,853.3 1113.8,846.2 1117.4,847 1120.9,852.4 1123.6,857.7 1126.3,853.3 1129.8,857.7 1133.4,864.8 1136.9,871 1139.6,857.7 1142.3,839.9 1144.9,816.8 1147.6,793.7 1151.2,783 1156.5,775 1160.9,779.5 1166.3,782.1 1169.8,798.1 1173.4,791.9 1177.8,785.7 1180.5,782.1 1182.3,793.7 1184.1,811.5 1185.8,820.4 1188.5,812.4 1191.2,804.4 1193.8,796.4 1196.5,811.5 1200,828.4 1202.7,841.7 1205.3,831 1208,821.3 1211.6,814.1 1215.1,820.4 1218.7,829.3 1222.2,841.7 1225.8,857.7 1228.5,866.6 1231.7,872.8 1233.8,845.3 1235.6,815 1238.2,793.7 1240.9,767 1244.5,757.2 1248.9,751 1252.5,751.9 1256,754.6 1260.5,757.2 1264,755.5 1267.6,763.5 1271.1,767.9 1274.7,773.2 1277.4,782.1 1280.9,772.3 1283.6,769.7 1286.8,766.1 1289.8,773.2 1293.4,781.2 1296.9,788.4 1301.4,792.8 1304.9,786.6 1308.5,781.2 1312,775.9 1316.5,769.7 1319.5,766.1 1322.7,770.6 1326.3,779.5 1328.4,791.9 1331.6,780.3 1335.2,777.7 1338.7,773.2 1342.3,781.2 1345.8,802.6 1349.4,831 1352.6,853.3 1355.6,845.3 1358.3,839.9 1360.9,836.4 1363.6,839 1366.3,841.7 1369.8,836.4 1373.4,832.8 1377,834.6 1380.5,839.9 1384.1,859.5 1387.6,866.6 1392.1,866.6 1394.7,871 1397.4,845.3 1399.2,818.6 1401.2,808.6 1404.2,778.4 1407.2,768.4 1411.2,758.3 1415.3,752.3 1418.3,750.8 1420.3,758.3 1422.3,770.4 1425.3,778.4 1428.4,786.5 1431.4,796.5 1434.4,808.6 1437.4,826.7 1441.4,850.9 1445.5,881.1 1448.5,871 1451.5,862" fill="none" stroke="#ff00ff" stroke-width="1.25" stroke-linejoin="round" />
<polygon points="8.3,124 10.7,124 17.2,130.5 17.2,132.4 12.7,132.4 12.7,140.5 6.3,140.5 6.3,132.4 1.8,132.4 1.8,130.5" fill="#ff0000"/>
<polygon points="49.8,163.5 52.2,163.5 58.7,170 58.7,171.9 54.1,171.9 54.1,180 47.9,180 47.9,171.9 43.3,171.9 43.3,170" fill="#ff0000"/>
<polygon points="129.8,246.3 132.2,246.3 138.7,252.8 138.7,254.7 134.2,254.7 134.2,262.8 127.8,262.8 127.8,254.7 123.3,254.7 123.3,252.8" fill="#ff0000"/>
<polygon points="251.3,122.4 253.7,122.4 260.2,128.9 260.2,130.8 255.7,130.8 255.7,138.9 249.3,138.9 249.3,130.8 244.8,130.8 244.8,128.9" fill="#ff0000"/>
<polygon points="321.2,112.3 323.6,112.3 330.1,118.8 330.1,120.7 325.5,120.7 325.5,128.8 319.2,128.8 319.2,120.7 314.7,120.7 314.7,118.8" fill="#ff0000"/>
<polygon points="340.8,122.4 343.2,122.4 349.7,128.9 349.7,130.8 345.1,130.8 345.1,138.9 338.9,138.9 338.9,130.8 334.3,130.8 334.3,128.9" fill="#ff0000"/>
<polygon points="467.2,182.4 469.6,182.4 476.1,188.9 476.1,190.8 471.5,190.8 471.5,198.9 465.2,198.9 465.2,190.8 460.7,190.8 460.7,188.9" fill="#ff0000"/>
<polygon points="528.3,285.3 530.7,285.3 537.2,291.8 537.2,293.7 532.6,293.7 532.6,301.8 526.4,301.8 526.4,293.7 521.8,293.7 521.8,291.8" fill="#ff0000"/>
<polygon points="683.2,349.7 685.6,349.7 692.1,356.2 692.1,358.1 687.5,358.1 687.5,366.2 681.2,366.2 681.2,358.1 676.7,358.1 676.7,356.2" fill="#ff0000"/>
<polygon points="720.8,355.5 723.2,355.5 729.7,362 729.7,363.9 725.1,363.9 725.1,372 718.9,372 718.9,363.9 714.3,363.9 714.3,362" fill="#ff0000"/>
<polygon points="780.4,367.6 782.8,367.6 789.3,374.1 789.3,376 784.8,376 784.8,384.1 778.5,384.1 778.5,376 773.9,376 773.9,374.1" fill="#ff0000"/>
<polygon points="813.6,411.3 816,411.3 822.5,417.8 822.5,419.7 817.9,419.7 817.9,427.8 811.6,427.8 811.6,419.7 807.1,419.7 807.1,417.8" fill="#ff0000"/>
<polygon points="1025.4,438.1 1027.8,438.1 1034.3,444.6 1034.3,446.5 1029.8,446.5 1029.8,454.6 1023.4,454.6 1023.4,446.5 1018.9,446.5 1018.9,444.6" fill="#ff0000"/>
<polygon points="1109.2,463.7 1111.6,463.7 1118.1,470.2 1118.1,472.1 1113.6,472.1 1113.6,480.2 1107.2,480.2 1107.2,472.1 1102.7,472.1 1102.7,470.2" fill="#ff0000"/>
<polygon points="1146.8,476.1 1149.2,476.1 1155.7,482.6 1155.7,484.5 1151.2,484.5 1151.2,492.6 1144.8,492.6 1144.8,484.5 1140.3,484.5 1140.3,482.6" fill="#ff0000"/>
<polygon points="1235.2,483.1 1237.6,483.1 1244.1,489.6 1244.1,491.5 1239.6,491.5 1239.6,499.6 1233.2,499.6 1233.2,491.5 1228.7,491.5 1228.7,489.6" fill="#ff0000"/>
<polygon points="1398.8,229.7 1401.2,229.7 1407.7,236.2 1407.7,238.1 1403.2,238.1 1403.2,246.2 1396.8,246.2 1396.8,238.1 1392.3,238.1 1392.3,236.2" fill="#ff0000"/>
<polygon points="11.7,94.5 16.1,94.5 16.1,101.7 20.9,101.7 20.9,103.8 13.9,109.5 6.9,103.8 6.9,101.7 11.7,101.7" fill="none" stroke="#00e800" stroke-width="1.6" stroke-linejoin="miter"/>
<polygon points="22.2,94.5 26.8,94.5 26.8,101.7 31.5,101.7 31.5,103.8 24.5,109.5 17.5,103.8 17.5,101.7 22.2,101.7" fill="none" stroke="#00e800" stroke-width="1.6" stroke-linejoin="miter"/>
<polygon points="82.3,82.2 86.8,82.2 86.8,89.4 91.6,89.4 91.6,91.5 84.6,97.2 77.6,91.5 77.6,89.4 82.3,89.4" fill="none" stroke="#00e800" stroke-width="1.6" stroke-linejoin="miter"/>
<polygon points="185.8,97.5 190.2,97.5 190.2,104.7 195,104.7 195,106.8 188,112.5 181,106.8 181,104.7 185.8,104.7" fill="none" stroke="#00e800" stroke-width="1.6" stroke-linejoin="miter"/>
<polygon points="208.2,51.5 212.7,51.5 212.7,58.6 217.4,58.6 217.4,60.9 210.4,66.5 203.4,60.9 203.4,58.6 208.2,58.6" fill="none" stroke="#00e800" stroke-width="1.6" stroke-linejoin="miter"/>
<polygon points="274.2,42.5 278.8,42.5 278.8,49.6 283.5,49.6 283.5,51.9 276.5,57.5 269.5,51.9 269.5,49.6 274.2,49.6" fill="none" stroke="#00e800" stroke-width="1.6" stroke-linejoin="miter"/>
<polygon points="386.8,54.9 391.2,54.9 391.2,62 396,62 396,64.2 389,69.8 382,64.2 382,62 386.8,62" fill="none" stroke="#00e800" stroke-width="1.6" stroke-linejoin="miter"/>
<polygon points="424.2,50.5 428.8,50.5 428.8,57.6 433.5,57.6 433.5,59.9 426.5,65.5 419.5,59.9 419.5,57.6 424.2,57.6" fill="none" stroke="#00e800" stroke-width="1.6" stroke-linejoin="miter"/>
<polygon points="602.8,211.6 607.2,211.6 607.2,218.7 612,218.7 612,220.8 605,226.4 598,220.8 598,218.7 602.8,218.7" fill="none" stroke="#00e800" stroke-width="1.6" stroke-linejoin="miter"/>
<polygon points="634,203.9 638.5,203.9 638.5,211 643.3,211 643.3,213.2 636.3,218.8 629.3,213.2 629.3,211 634,211" fill="none" stroke="#00e800" stroke-width="1.6" stroke-linejoin="miter"/>
<polygon points="958.2,380.8 962.8,380.8 962.8,387.8 967.5,387.8 967.5,390.1 960.5,395.6 953.5,390.1 953.5,387.8 958.2,387.8" fill="none" stroke="#00e800" stroke-width="1.6" stroke-linejoin="miter"/>
<polygon points="991.1,351.6 995.6,351.6 995.6,358.6 1000.4,358.6 1000.4,360.9 993.4,366.4 986.4,360.9 986.4,358.6 991.1,358.6" fill="none" stroke="#00e800" stroke-width="1.6" stroke-linejoin="miter"/>
<polygon points="1196.8,435.9 1201.2,435.9 1201.2,442.9 1206,442.9 1206,445.2 1199,450.8 1192,445.2 1192,442.9 1196.8,442.9" fill="none" stroke="#00e800" stroke-width="1.6" stroke-linejoin="miter"/>
<polygon points="1326.8,149.8 1331.2,149.8 1331.2,156.8 1336,156.8 1336,159 1329,164.6 1322,159 1322,156.8 1326.8,156.8" fill="none" stroke="#00e800" stroke-width="1.6" stroke-linejoin="miter"/>
<polygon points="1342,118.3 1346.5,118.3 1346.5,125.5 1351.2,125.5 1351.2,127.6 1344.2,133.2 1337.2,127.6 1337.2,125.5 1342,125.5" fill="none" stroke="#00e800" stroke-width="1.6" stroke-linejoin="miter"/>
<polygon points="1421.2,105 1425.7,105 1425.7,112.1 1430.4,112.1 1430.4,114.2 1423.4,119.9 1416.4,114.2 1416.4,112.1 1421.2,112.1" fill="none" stroke="#00e800" stroke-width="1.6" stroke-linejoin="miter"/>
<line x1="2" y1="69.8" x2="1467" y2="258" stroke="#f0f000" stroke-width="1.45"/>
<line x1="2" y1="164.3" x2="1467" y2="354.7" stroke="#f0f000" stroke-width="1.45"/>
<line x1="2" y1="259.1" x2="1467" y2="448.3" stroke="#f0f000" stroke-width="1.45"/>
<line x1="2" y1="72.7" x2="1467" y2="72.7" stroke="#0000f4" stroke-width="2"/>
<line x1="2" y1="161.3" x2="1467" y2="161.3" stroke="#0000f4" stroke-width="2"/>
<line x1="2" y1="218" x2="1467" y2="218" stroke="#0000f4" stroke-width="2"/>
<line x1="2" y1="305.3" x2="1467" y2="305.3" stroke="#0000f4" stroke-width="2"/>
<line x1="2" y1="357.8" x2="1467" y2="357.8" stroke="#0000f4" stroke-width="2"/>
<polyline points="279,45.6 288,49" fill="none" stroke="#c8c8c8" stroke-width="1.2"/>
<rect x="271" y="41" width="5" height="6" fill="none" stroke="#c8c8c8" stroke-width="1"/>
<polygon points="894.5,514.4 900.6,520.6 888.5,520.6" fill="#ff0000"/>
<line x1="895" y1="512.2" x2="910.6" y2="512.2" stroke="#c8c8c8" stroke-width="1.3"/>
<rect x="893" y="510.6" width="3" height="3" fill="#c8c8c8"/>
<line x1="897" y1="509.5" x2="899" y2="509.5" stroke="#c8c8c8" stroke-width="1"/>
<line x1="1468.2" y1="11" x2="1468.2" y2="894" stroke="#aa0000" stroke-width="2"/>
<line x1="2" y1="539.4" x2="1494" y2="539.4" stroke="#aa0000" stroke-width="2"/>
<line x1="2" y1="714.6" x2="1494" y2="714.6" stroke="#aa0000" stroke-width="2"/>
<line x1="1468" y1="717.4" x2="1494" y2="717.4" stroke="#aa0000" stroke-width="1.6"/>
<line x1="2" y1="892" x2="1494" y2="892" stroke="#aa0000" stroke-width="2"/>
<line x1="1468" y1="890.8" x2="1494" y2="890.8" stroke="#aa0000" stroke-width="1.6"/>
<line x1="1468" y1="692.1" x2="1494" y2="692.1" stroke="#aa0000" stroke-width="1.6"/>
<line x1="1469" y1="54.9" x2="1476.7" y2="54.9" stroke="#aa0000" stroke-width="2"/>
<line x1="1469" y1="118.5" x2="1476.7" y2="118.5" stroke="#aa0000" stroke-width="2"/>
<line x1="1469" y1="182.3" x2="1476.7" y2="182.3" stroke="#aa0000" stroke-width="2"/>
<line x1="1469" y1="246.5" x2="1476.7" y2="246.5" stroke="#aa0000" stroke-width="2"/>
<line x1="1469" y1="310.2" x2="1476.7" y2="310.2" stroke="#aa0000" stroke-width="2"/>
<line x1="1469" y1="374.4" x2="1476.7" y2="374.4" stroke="#aa0000" stroke-width="2"/>
<line x1="1469" y1="438.6" x2="1476.7" y2="438.6" stroke="#aa0000" stroke-width="2"/>
<line x1="1469" y1="502.3" x2="1476.7" y2="502.3" stroke="#aa0000" stroke-width="2"/>
<line x1="1469" y1="86" x2="1473" y2="86" stroke="#aa0000" stroke-width="2"/>
<line x1="1469" y1="151" x2="1473" y2="151" stroke="#aa0000" stroke-width="2"/>
<line x1="1469" y1="215" x2="1473" y2="215" stroke="#aa0000" stroke-width="2"/>
<line x1="1469" y1="279" x2="1473" y2="279" stroke="#aa0000" stroke-width="2"/>
<line x1="1469" y1="343" x2="1473" y2="343" stroke="#aa0000" stroke-width="2"/>
<line x1="1469" y1="407" x2="1473" y2="407" stroke="#aa0000" stroke-width="2"/>
<line x1="1469" y1="470" x2="1473" y2="470" stroke="#aa0000" stroke-width="2"/>
<line x1="1469" y1="590.5" x2="1476.7" y2="590.5" stroke="#aa0000" stroke-width="2"/>
<line x1="1469" y1="631.2" x2="1476.7" y2="631.2" stroke="#aa0000" stroke-width="2"/>
<line x1="1469" y1="671.5" x2="1476.7" y2="671.5" stroke="#aa0000" stroke-width="2"/>
<line x1="1469" y1="611" x2="1472.5" y2="611" stroke="#aa0000" stroke-width="2"/>
<line x1="1469" y1="652.2" x2="1472.5" y2="652.2" stroke="#aa0000" stroke-width="2"/>
<polygon points="1435.5,18 1444,26 1435.5,34 1427,26" fill="none" stroke="#c00000" stroke-width="1.3"/>
<rect x="1450" y="18.3" width="14.2" height="15.6" fill="none" stroke="#c00000" stroke-width="1.4"/>
<line x1="1459" y1="18.3" x2="1459" y2="33.9" stroke="#c00000" stroke-width="1.4"/>
<polygon points="198.4,16.3 206.1,24.2 201.4,24.2 201.4,33 195.6,33 195.6,24.2 190.7,24.2" fill="#ff0000"/>
<text x="3.3" y="32.3" fill="#c4c4c4" style="font-family:'Liberation Sans','Noto Sans CJK SC','WenQuanYi Zen Hei',sans-serif;font-size:19.5px" textLength="178.5" lengthAdjust="spacingAndGlyphs" font-weight="300">创业板指(日线.前复权)</text>
<text x="211.9" y="31.8" fill="#eeeeee" style="font-family:'Liberation Sans',Arial,sans-serif;font-size:18px" textLength="108.4" lengthAdjust="spacingAndGlyphs" >MA5: 1695.58</text>
<text x="330.2" y="31.8" fill="#ffff00" style="font-family:'Liberation Sans',Arial,sans-serif;font-size:18px" textLength="119.7" lengthAdjust="spacingAndGlyphs" >MA10: 1725.83</text>
<text x="458.7" y="31.8" fill="#ff00ff" style="font-family:'Liberation Sans',Arial,sans-serif;font-size:18px" textLength="119.7" lengthAdjust="spacingAndGlyphs" >MA20: 1703.54</text>
<text x="587.7" y="31.8" fill="#00e800" style="font-family:'Liberation Sans',Arial,sans-serif;font-size:18px" textLength="129.9" lengthAdjust="spacingAndGlyphs" >MA250: 1510.28</text>
<text x="293" y="56.9" fill="#c8c8c8" style="font-family:'Liberation Sans',Arial,sans-serif;font-size:18px" textLength="64.9" lengthAdjust="spacingAndGlyphs" >1918.22</text>
<text x="913.9" y="521" fill="#c8c8c8" style="font-family:'Liberation Sans',Arial,sans-serif;font-size:18px" textLength="62.2" lengthAdjust="spacingAndGlyphs" >1184.91</text>
<text x="1310.5" y="286.3" fill="#c8c8c8" style="font-family:'Liberation Sans',Arial,sans-serif;font-size:18px" textLength="148" lengthAdjust="spacingAndGlyphs" >1568.32 - 1593.26</text>
<text x="2" y="558.1" fill="#eeeeee" style="font-family:'Liberation Sans',Arial,sans-serif;font-size:18px" textLength="190.8" lengthAdjust="spacingAndGlyphs" >VOLUME: 95438648.00</text>
<text x="202.4" y="558.1" fill="#eeeeee" style="font-family:'Liberation Sans',Arial,sans-serif;font-size:18px" textLength="150" lengthAdjust="spacingAndGlyphs" >MA5: 97566048.00</text>
<text x="362.5" y="558.1" fill="#ffff00" style="font-family:'Liberation Sans',Arial,sans-serif;font-size:18px" textLength="172.5" lengthAdjust="spacingAndGlyphs" >MA10: 106420528.00</text>
<text x="3.2" y="733.1" fill="#c8c8c8" style="font-family:'Liberation Sans',Arial,sans-serif;font-size:18px" textLength="84.6" lengthAdjust="spacingAndGlyphs" >KDJ(9,3,3)</text>
<text x="97.4" y="733.1" fill="#eeeeee" style="font-family:'Liberation Sans',Arial,sans-serif;font-size:18px" textLength="65.3" lengthAdjust="spacingAndGlyphs" >K: 32.38</text>
<text x="172.4" y="733.1" fill="#ffff00" style="font-family:'Liberation Sans',Arial,sans-serif;font-size:18px" textLength="66.4" lengthAdjust="spacingAndGlyphs" >D: 43.89</text>
<text x="247.3" y="733.1" fill="#ff00ff" style="font-family:'Liberation Sans',Arial,sans-serif;font-size:18px" textLength="53.6" lengthAdjust="spacingAndGlyphs" >J: 9.35</text>
<text x="1488.8" y="596.9" fill="#e03030" style="font-family:'Liberation Sans',Arial,sans-serif;font-size:18px">1</text>
<text x="1488.8" y="637.4" fill="#e03030" style="font-family:'Liberation Sans',Arial,sans-serif;font-size:18px">1</text>
<text x="1485.2" y="773.5" fill="#e03030" style="font-family:'Liberation Sans',Arial,sans-serif;font-size:18px">1</text>
<text x="1471.5" y="710.3" fill="#e03030" style="font-family:'Liberation Sans',Arial,sans-serif;font-size:18px">X1</text>
<rect x="1296" y="892.6" width="116" height="1.4" fill="#2a0090"/>
</svg>
</body></html>
